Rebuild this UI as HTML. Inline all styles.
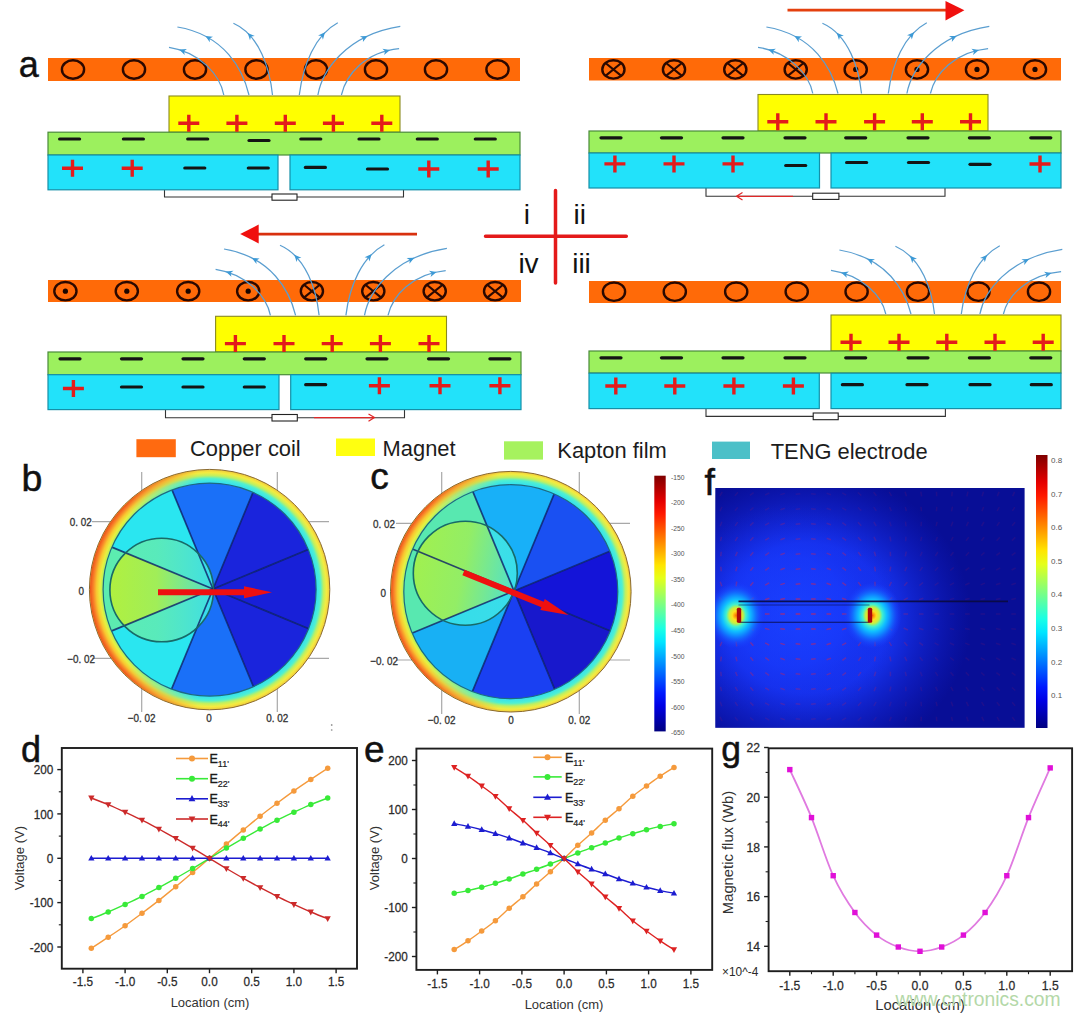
<!DOCTYPE html>
<html><head><meta charset="utf-8"><style>
html,body{margin:0;padding:0;background:#fff;}
body{width:1080px;height:1016px;overflow:hidden;font-family:"Liberation Sans",sans-serif;}
svg{display:block;}
</style></head><body>
<svg width="1080" height="1016" viewBox="0 0 1080 1016">
<rect width="1080" height="1016" fill="#fff"/>
<rect x="48" y="58" width="472" height="23" fill="#ff6a08"/>
<ellipse cx="73.0" cy="69.5" rx="11.1" ry="9.2" fill="none" stroke="#2a0800" stroke-width="2.4"/>
<ellipse cx="134.0" cy="69.5" rx="11.1" ry="9.2" fill="none" stroke="#2a0800" stroke-width="2.4"/>
<ellipse cx="195.0" cy="69.5" rx="11.1" ry="9.2" fill="none" stroke="#2a0800" stroke-width="2.4"/>
<ellipse cx="256.5" cy="69.5" rx="11.1" ry="9.2" fill="none" stroke="#2a0800" stroke-width="2.4"/>
<ellipse cx="316.0" cy="69.5" rx="11.1" ry="9.2" fill="none" stroke="#2a0800" stroke-width="2.4"/>
<ellipse cx="376.0" cy="69.5" rx="11.1" ry="9.2" fill="none" stroke="#2a0800" stroke-width="2.4"/>
<ellipse cx="436.0" cy="69.5" rx="11.1" ry="9.2" fill="none" stroke="#2a0800" stroke-width="2.4"/>
<ellipse cx="497.5" cy="69.5" rx="11.1" ry="9.2" fill="none" stroke="#2a0800" stroke-width="2.4"/>
<path d="M164.5,189.8V197H403.5V189.8" fill="none" stroke="#333" stroke-width="1.1"/>
<rect x="272" y="194" width="25" height="6.199999999999989" fill="#fff" stroke="#222" stroke-width="1.1"/>
<rect x="169" y="96" width="231" height="36.19999999999999" fill="#ffff00" stroke="#8a8a20" stroke-width="1.1"/>
<rect x="48" y="132.2" width="472" height="22.80000000000001" fill="#9cf05e" stroke="#4a8a3a" stroke-width="1.2"/>
<rect x="48" y="155" width="230" height="34.80000000000001" fill="#22e2fa" stroke="#1590a8" stroke-width="1.2"/>
<rect x="290" y="155" width="230" height="34.80000000000001" fill="#22e2fa" stroke="#1590a8" stroke-width="1.2"/>
<path d="M223.8,95.0C220.0,75.0 200.0,52.0 169.0,47.3" fill="none" stroke="#5a9ed0" stroke-width="1.25"/>
<path d="M179.3,49.5L186.9,48.9L184.0,51.2L184.7,54.9Z" fill="#3d9ad6"/>
<path d="M249.0,95.0C243.0,70.0 225.0,35.0 177.4,27.0" fill="none" stroke="#5a9ed0" stroke-width="1.25"/>
<path d="M205.4,36.0L213.0,36.8L209.7,38.6L209.8,42.3Z" fill="#3d9ad6"/>
<path d="M272.5,95.0C270.0,70.0 260.0,35.0 233.4,23.2" fill="none" stroke="#5a9ed0" stroke-width="1.25"/>
<path d="M247.7,32.9L254.8,36.0L251.0,36.6L250.0,40.2Z" fill="#3d9ad6"/>
<path d="M299.3,95.0C303.0,65.0 315.0,35.0 337.8,22.8" fill="none" stroke="#5a9ed0" stroke-width="1.25"/>
<path d="M325.0,32.3L322.9,39.7L321.8,36.1L318.0,35.5Z" fill="#3d9ad6"/>
<path d="M317.9,95.0C322.0,72.0 345.0,35.0 400.3,26.4" fill="none" stroke="#5a9ed0" stroke-width="1.25"/>
<path d="M367.6,36.0L362.9,42.0L363.2,38.3L359.9,36.3Z" fill="#3d9ad6"/>
<path d="M341.4,95.0C346.0,75.0 365.0,52.0 399.1,48.7" fill="none" stroke="#5a9ed0" stroke-width="1.25"/>
<path d="M390.0,50.0L384.1,54.9L385.1,51.3L382.4,48.8Z" fill="#3d9ad6"/>
<path d="M178.3,123.3H199.3M188.8,114.8V131.8" stroke="#e31b1b" stroke-width="3.4"/>
<path d="M226.4,123.3H247.4M236.9,114.8V131.8" stroke="#e31b1b" stroke-width="3.4"/>
<path d="M274.8,123.3H295.8M285.3,114.8V131.8" stroke="#e31b1b" stroke-width="3.4"/>
<path d="M322.9,123.3H343.9M333.4,114.8V131.8" stroke="#e31b1b" stroke-width="3.4"/>
<path d="M371.3,123.3H392.3M381.8,114.8V131.8" stroke="#e31b1b" stroke-width="3.4"/>
<path d="M59.6,139.0H79.6" stroke="#141414" stroke-width="3.2" stroke-linecap="round"/>
<path d="M123.4,139.0H143.4" stroke="#141414" stroke-width="3.2" stroke-linecap="round"/>
<path d="M187.7,139.0H207.7" stroke="#141414" stroke-width="3.2" stroke-linecap="round"/>
<path d="M249.0,140.5H269.0" stroke="#141414" stroke-width="3.2" stroke-linecap="round"/>
<path d="M300.8,139.0H320.8" stroke="#141414" stroke-width="3.2" stroke-linecap="round"/>
<path d="M359.0,139.0H379.0" stroke="#141414" stroke-width="3.2" stroke-linecap="round"/>
<path d="M417.3,139.0H437.3" stroke="#141414" stroke-width="3.2" stroke-linecap="round"/>
<path d="M475.3,139.0H495.3" stroke="#141414" stroke-width="3.2" stroke-linecap="round"/>
<path d="M62.0,168.3H83.0M72.5,159.8V176.8" stroke="#e31b1b" stroke-width="3.4"/>
<path d="M121.7,168.3H142.7M132.2,159.8V176.8" stroke="#e31b1b" stroke-width="3.4"/>
<path d="M184.8,168.0H204.8" stroke="#141414" stroke-width="3.2" stroke-linecap="round"/>
<path d="M248.3,168.0H268.3" stroke="#141414" stroke-width="3.2" stroke-linecap="round"/>
<path d="M305.4,167.4H325.4" stroke="#141414" stroke-width="3.2" stroke-linecap="round"/>
<path d="M367.5,169.0H387.5" stroke="#141414" stroke-width="3.2" stroke-linecap="round"/>
<path d="M418.3,169.0H439.3M428.8,160.5V177.5" stroke="#e31b1b" stroke-width="3.4"/>
<path d="M477.7,169.0H498.7M488.2,160.5V177.5" stroke="#e31b1b" stroke-width="3.4"/>
<rect x="589" y="58" width="472" height="22.5" fill="#ff6a08"/>
<ellipse cx="613.4" cy="69.4" rx="11.1" ry="9.2" fill="none" stroke="#2a0800" stroke-width="2.4"/>
<path d="M605.8,63.2L621.0,75.6M621.0,63.2L605.8,75.6" stroke="#2a0800" stroke-width="2.1"/>
<ellipse cx="674.0" cy="69.4" rx="11.1" ry="9.2" fill="none" stroke="#2a0800" stroke-width="2.4"/>
<path d="M666.4,63.2L681.6,75.6M681.6,63.2L666.4,75.6" stroke="#2a0800" stroke-width="2.1"/>
<ellipse cx="735.3" cy="69.4" rx="11.1" ry="9.2" fill="none" stroke="#2a0800" stroke-width="2.4"/>
<path d="M727.7,63.2L742.9,75.6M742.9,63.2L727.7,75.6" stroke="#2a0800" stroke-width="2.1"/>
<ellipse cx="795.7" cy="69.4" rx="11.1" ry="9.2" fill="none" stroke="#2a0800" stroke-width="2.4"/>
<path d="M788.1,63.2L803.3,75.6M803.3,63.2L788.1,75.6" stroke="#2a0800" stroke-width="2.1"/>
<ellipse cx="855.7" cy="69.4" rx="11.1" ry="9.2" fill="none" stroke="#2a0800" stroke-width="2.4"/>
<circle cx="855.7" cy="69.4" r="2.6" fill="#1a0500"/>
<ellipse cx="917.0" cy="69.4" rx="11.1" ry="9.2" fill="none" stroke="#2a0800" stroke-width="2.4"/>
<circle cx="917.0" cy="69.4" r="2.6" fill="#1a0500"/>
<ellipse cx="977.0" cy="69.4" rx="11.1" ry="9.2" fill="none" stroke="#2a0800" stroke-width="2.4"/>
<circle cx="977.0" cy="69.4" r="2.6" fill="#1a0500"/>
<ellipse cx="1035.0" cy="69.4" rx="11.1" ry="9.2" fill="none" stroke="#2a0800" stroke-width="2.4"/>
<circle cx="1035.0" cy="69.4" r="2.6" fill="#1a0500"/>
<path d="M706,188V196.3H945V188" fill="none" stroke="#333" stroke-width="1.1"/>
<rect x="812.7" y="193.2" width="26.199999999999932" height="6.200000000000017" fill="#fff" stroke="#222" stroke-width="1.1"/>
<rect x="758" y="94.5" width="230" height="36.5" fill="#ffff00" stroke="#8a8a20" stroke-width="1.1"/>
<rect x="589" y="131" width="472" height="22" fill="#9cf05e" stroke="#4a8a3a" stroke-width="1.2"/>
<rect x="589" y="153" width="230.5" height="35" fill="#22e2fa" stroke="#1590a8" stroke-width="1.2"/>
<rect x="831" y="153" width="230" height="35" fill="#22e2fa" stroke="#1590a8" stroke-width="1.2"/>
<path d="M812.8,93.5C809.0,74.1 789.0,52.0 758.0,47.3" fill="none" stroke="#5a9ed0" stroke-width="1.25"/>
<path d="M768.2,49.5L775.9,48.8L773.0,51.1L773.8,54.8Z" fill="#3d9ad6"/>
<path d="M838.0,93.5C832.0,69.1 814.0,35.0 766.4,27.0" fill="none" stroke="#5a9ed0" stroke-width="1.25"/>
<path d="M794.4,35.9L802.0,36.6L798.7,38.4L798.8,42.2Z" fill="#3d9ad6"/>
<path d="M861.5,93.5C859.0,69.1 849.0,35.0 822.4,23.2" fill="none" stroke="#5a9ed0" stroke-width="1.25"/>
<path d="M836.7,32.8L843.8,35.8L840.0,36.5L839.0,40.1Z" fill="#3d9ad6"/>
<path d="M888.3,93.5C892.0,64.1 904.0,35.0 926.8,22.8" fill="none" stroke="#5a9ed0" stroke-width="1.25"/>
<path d="M914.1,32.2L911.8,39.5L910.8,35.9L907.0,35.3Z" fill="#3d9ad6"/>
<path d="M906.9,93.5C911.0,71.1 934.0,35.0 989.3,26.4" fill="none" stroke="#5a9ed0" stroke-width="1.25"/>
<path d="M956.6,35.9L951.8,41.9L952.2,38.1L949.0,36.1Z" fill="#3d9ad6"/>
<path d="M930.4,93.5C935.0,74.1 954.0,52.0 988.1,48.7" fill="none" stroke="#5a9ed0" stroke-width="1.25"/>
<path d="M979.0,50.0L973.0,54.9L974.1,51.3L971.4,48.7Z" fill="#3d9ad6"/>
<path d="M767.3,121.8H788.3M777.8,113.3V130.3" stroke="#e31b1b" stroke-width="3.4"/>
<path d="M815.5,121.8H836.5M826.0,113.3V130.3" stroke="#e31b1b" stroke-width="3.4"/>
<path d="M864.1,121.8H885.1M874.6,113.3V130.3" stroke="#e31b1b" stroke-width="3.4"/>
<path d="M911.8,121.8H932.8M922.3,113.3V130.3" stroke="#e31b1b" stroke-width="3.4"/>
<path d="M960.0,121.8H981.0M970.5,113.3V130.3" stroke="#e31b1b" stroke-width="3.4"/>
<path d="M601.0,137.8H621.0" stroke="#141414" stroke-width="3.2" stroke-linecap="round"/>
<path d="M661.5,137.8H681.5" stroke="#141414" stroke-width="3.2" stroke-linecap="round"/>
<path d="M723.0,137.8H743.0" stroke="#141414" stroke-width="3.2" stroke-linecap="round"/>
<path d="M785.0,137.8H805.0" stroke="#141414" stroke-width="3.2" stroke-linecap="round"/>
<path d="M845.7,137.8H865.7" stroke="#141414" stroke-width="3.2" stroke-linecap="round"/>
<path d="M908.0,137.8H928.0" stroke="#141414" stroke-width="3.2" stroke-linecap="round"/>
<path d="M969.4,137.8H989.4" stroke="#141414" stroke-width="3.2" stroke-linecap="round"/>
<path d="M1030.8,137.8H1050.8" stroke="#141414" stroke-width="3.2" stroke-linecap="round"/>
<path d="M604.4,163.9H625.4M614.9,155.4V172.4" stroke="#e31b1b" stroke-width="3.4"/>
<path d="M663.5,163.9H684.5M674.0,155.4V172.4" stroke="#e31b1b" stroke-width="3.4"/>
<path d="M722.5,163.9H743.5M733.0,155.4V172.4" stroke="#e31b1b" stroke-width="3.4"/>
<path d="M785.7,165.5H805.7" stroke="#141414" stroke-width="3.2" stroke-linecap="round"/>
<path d="M846.6,162.5H866.6" stroke="#141414" stroke-width="3.2" stroke-linecap="round"/>
<path d="M908.5,162.5H928.5" stroke="#141414" stroke-width="3.2" stroke-linecap="round"/>
<path d="M970.0,164.3H990.0" stroke="#141414" stroke-width="3.2" stroke-linecap="round"/>
<path d="M1029.5,164.0H1050.5M1040.0,155.5V172.5" stroke="#e31b1b" stroke-width="3.4"/>
<rect x="48" y="280" width="473" height="22" fill="#ff6a08"/>
<ellipse cx="65.4" cy="291.2" rx="11.1" ry="9.2" fill="none" stroke="#2a0800" stroke-width="2.4"/>
<circle cx="65.4" cy="291.2" r="2.6" fill="#1a0500"/>
<ellipse cx="126.8" cy="291.2" rx="11.1" ry="9.2" fill="none" stroke="#2a0800" stroke-width="2.4"/>
<circle cx="126.8" cy="291.2" r="2.6" fill="#1a0500"/>
<ellipse cx="188.2" cy="291.2" rx="11.1" ry="9.2" fill="none" stroke="#2a0800" stroke-width="2.4"/>
<circle cx="188.2" cy="291.2" r="2.6" fill="#1a0500"/>
<ellipse cx="248.2" cy="291.2" rx="11.1" ry="9.2" fill="none" stroke="#2a0800" stroke-width="2.4"/>
<circle cx="248.2" cy="291.2" r="2.6" fill="#1a0500"/>
<ellipse cx="311.9" cy="291.2" rx="11.1" ry="9.2" fill="none" stroke="#2a0800" stroke-width="2.4"/>
<path d="M304.3,285.0L319.5,297.4M319.5,285.0L304.3,297.4" stroke="#2a0800" stroke-width="2.1"/>
<ellipse cx="373.3" cy="291.2" rx="11.1" ry="9.2" fill="none" stroke="#2a0800" stroke-width="2.4"/>
<path d="M365.7,285.0L380.9,297.4M380.9,285.0L365.7,297.4" stroke="#2a0800" stroke-width="2.1"/>
<ellipse cx="434.7" cy="291.2" rx="11.1" ry="9.2" fill="none" stroke="#2a0800" stroke-width="2.4"/>
<path d="M427.1,285.0L442.3,297.4M442.3,285.0L427.1,297.4" stroke="#2a0800" stroke-width="2.1"/>
<ellipse cx="495.1" cy="291.2" rx="11.1" ry="9.2" fill="none" stroke="#2a0800" stroke-width="2.4"/>
<path d="M487.5,285.0L502.7,297.4M502.7,285.0L487.5,297.4" stroke="#2a0800" stroke-width="2.1"/>
<path d="M165.5,409.6V417.8H404.5V409.6" fill="none" stroke="#333" stroke-width="1.1"/>
<rect x="272" y="414.5" width="25.30000000000001" height="6.5" fill="#fff" stroke="#222" stroke-width="1.1"/>
<rect x="215.6" y="316.3" width="230.9" height="35.69999999999999" fill="#ffff00" stroke="#8a8a20" stroke-width="1.1"/>
<rect x="48" y="352" width="473" height="22.69999999999999" fill="#9cf05e" stroke="#4a8a3a" stroke-width="1.2"/>
<rect x="48" y="374.7" width="231" height="34.900000000000034" fill="#22e2fa" stroke="#1590a8" stroke-width="1.2"/>
<rect x="290.7" y="374.7" width="230.3" height="34.900000000000034" fill="#22e2fa" stroke="#1590a8" stroke-width="1.2"/>
<path d="M270.4,315.3C266.6,296.0 246.6,274.0 215.6,269.3" fill="none" stroke="#5a9ed0" stroke-width="1.25"/>
<path d="M225.8,271.5L233.5,270.8L230.6,273.1L231.4,276.8Z" fill="#3d9ad6"/>
<path d="M295.6,315.3C289.6,291.0 271.6,257.0 224.0,249.0" fill="none" stroke="#5a9ed0" stroke-width="1.25"/>
<path d="M252.0,257.9L259.6,258.6L256.3,260.4L256.5,264.1Z" fill="#3d9ad6"/>
<path d="M319.1,315.3C316.6,291.0 306.6,257.0 280.0,245.2" fill="none" stroke="#5a9ed0" stroke-width="1.25"/>
<path d="M294.3,254.7L301.4,257.8L297.6,258.5L296.6,262.1Z" fill="#3d9ad6"/>
<path d="M345.9,315.3C349.6,286.0 361.6,257.0 384.4,244.8" fill="none" stroke="#5a9ed0" stroke-width="1.25"/>
<path d="M371.7,254.1L369.4,261.5L368.4,257.9L364.6,257.3Z" fill="#3d9ad6"/>
<path d="M364.5,315.3C368.6,293.0 391.6,257.0 446.9,248.4" fill="none" stroke="#5a9ed0" stroke-width="1.25"/>
<path d="M414.3,257.8L409.4,263.8L409.8,260.1L406.6,258.1Z" fill="#3d9ad6"/>
<path d="M388.0,315.3C392.6,296.0 411.6,274.0 445.7,270.7" fill="none" stroke="#5a9ed0" stroke-width="1.25"/>
<path d="M436.6,272.0L430.6,276.9L431.7,273.3L429.0,270.7Z" fill="#3d9ad6"/>
<path d="M224.9,343.6H245.9M235.4,335.1V352.1" stroke="#e31b1b" stroke-width="3.4"/>
<path d="M273.5,343.6H294.5M284.0,335.1V352.1" stroke="#e31b1b" stroke-width="3.4"/>
<path d="M321.7,343.6H342.7M332.2,335.1V352.1" stroke="#e31b1b" stroke-width="3.4"/>
<path d="M369.9,343.6H390.9M380.4,335.1V352.1" stroke="#e31b1b" stroke-width="3.4"/>
<path d="M418.5,343.6H439.5M429.0,335.1V352.1" stroke="#e31b1b" stroke-width="3.4"/>
<path d="M60.0,358.8H80.0" stroke="#141414" stroke-width="3.2" stroke-linecap="round"/>
<path d="M121.5,358.8H141.5" stroke="#141414" stroke-width="3.2" stroke-linecap="round"/>
<path d="M183.0,358.8H203.0" stroke="#141414" stroke-width="3.2" stroke-linecap="round"/>
<path d="M244.3,358.8H264.3" stroke="#141414" stroke-width="3.2" stroke-linecap="round"/>
<path d="M305.7,358.8H325.7" stroke="#141414" stroke-width="3.2" stroke-linecap="round"/>
<path d="M367.0,358.8H387.0" stroke="#141414" stroke-width="3.2" stroke-linecap="round"/>
<path d="M428.5,358.8H448.5" stroke="#141414" stroke-width="3.2" stroke-linecap="round"/>
<path d="M489.9,358.8H509.9" stroke="#141414" stroke-width="3.2" stroke-linecap="round"/>
<path d="M62.9,388.5H83.9M73.4,380.0V397.0" stroke="#e31b1b" stroke-width="3.4"/>
<path d="M121.5,387.0H141.5" stroke="#141414" stroke-width="3.2" stroke-linecap="round"/>
<path d="M183.0,387.0H203.0" stroke="#141414" stroke-width="3.2" stroke-linecap="round"/>
<path d="M244.3,387.0H264.3" stroke="#141414" stroke-width="3.2" stroke-linecap="round"/>
<path d="M305.7,384.7H325.7" stroke="#141414" stroke-width="3.2" stroke-linecap="round"/>
<path d="M368.9,385.7H389.9M379.4,377.2V394.2" stroke="#e31b1b" stroke-width="3.4"/>
<path d="M429.5,385.7H450.5M440.0,377.2V394.2" stroke="#e31b1b" stroke-width="3.4"/>
<path d="M489.4,385.7H510.4M499.9,377.2V394.2" stroke="#e31b1b" stroke-width="3.4"/>
<rect x="589" y="281" width="472" height="22" fill="#ff6a08"/>
<ellipse cx="614.0" cy="291.7" rx="11.1" ry="9.2" fill="none" stroke="#2a0800" stroke-width="2.4"/>
<ellipse cx="674.8" cy="291.7" rx="11.1" ry="9.2" fill="none" stroke="#2a0800" stroke-width="2.4"/>
<ellipse cx="736.2" cy="291.7" rx="11.1" ry="9.2" fill="none" stroke="#2a0800" stroke-width="2.4"/>
<ellipse cx="796.7" cy="291.7" rx="11.1" ry="9.2" fill="none" stroke="#2a0800" stroke-width="2.4"/>
<ellipse cx="856.6" cy="291.7" rx="11.1" ry="9.2" fill="none" stroke="#2a0800" stroke-width="2.4"/>
<ellipse cx="918.0" cy="291.7" rx="11.1" ry="9.2" fill="none" stroke="#2a0800" stroke-width="2.4"/>
<ellipse cx="978.5" cy="291.7" rx="11.1" ry="9.2" fill="none" stroke="#2a0800" stroke-width="2.4"/>
<ellipse cx="1039.0" cy="291.7" rx="11.1" ry="9.2" fill="none" stroke="#2a0800" stroke-width="2.4"/>
<path d="M706,408.6V416.4H945.4V408.6" fill="none" stroke="#333" stroke-width="1.1"/>
<rect x="813.2" y="413" width="25.0" height="6.699999999999989" fill="#fff" stroke="#222" stroke-width="1.1"/>
<rect x="831" y="315" width="230" height="36" fill="#ffff00" stroke="#8a8a20" stroke-width="1.1"/>
<rect x="589" y="351" width="472" height="22" fill="#9cf05e" stroke="#4a8a3a" stroke-width="1.2"/>
<rect x="589" y="373.2" width="230.29999999999995" height="35.400000000000034" fill="#22e2fa" stroke="#1590a8" stroke-width="1.2"/>
<rect x="831" y="373.2" width="230" height="35.400000000000034" fill="#22e2fa" stroke="#1590a8" stroke-width="1.2"/>
<path d="M885.8,314.0C882.0,295.6 862.0,275.0 831.0,270.3" fill="none" stroke="#5a9ed0" stroke-width="1.25"/>
<path d="M841.2,272.4L848.9,271.6L846.0,274.0L846.8,277.7Z" fill="#3d9ad6"/>
<path d="M911.0,314.0C905.0,290.6 887.0,258.0 839.4,250.0" fill="none" stroke="#5a9ed0" stroke-width="1.25"/>
<path d="M867.3,258.7L875.0,259.3L871.7,261.1L871.9,264.9Z" fill="#3d9ad6"/>
<path d="M934.5,314.0C932.0,290.6 922.0,258.0 895.4,246.2" fill="none" stroke="#5a9ed0" stroke-width="1.25"/>
<path d="M910.0,255.8L917.0,258.8L913.3,259.5L912.3,263.2Z" fill="#3d9ad6"/>
<path d="M961.3,314.0C965.0,285.6 977.0,258.0 999.8,245.8" fill="none" stroke="#5a9ed0" stroke-width="1.25"/>
<path d="M987.1,254.9L984.8,262.3L983.7,258.6L980.0,258.0Z" fill="#3d9ad6"/>
<path d="M979.9,314.0C984.0,292.6 1007.0,258.0 1062.3,249.4" fill="none" stroke="#5a9ed0" stroke-width="1.25"/>
<path d="M1029.1,258.9L1024.2,264.9L1024.6,261.1L1021.4,259.2Z" fill="#3d9ad6"/>
<path d="M1003.4,314.0C1008.0,295.6 1027.0,275.0 1061.1,271.7" fill="none" stroke="#5a9ed0" stroke-width="1.25"/>
<path d="M1051.5,273.0L1045.6,277.9L1046.7,274.3L1044.0,271.7Z" fill="#3d9ad6"/>
<path d="M840.5,342.2H861.5M851.0,333.7V350.7" stroke="#e31b1b" stroke-width="3.4"/>
<path d="M888.5,342.2H909.5M899.0,333.7V350.7" stroke="#e31b1b" stroke-width="3.4"/>
<path d="M936.3,342.2H957.3M946.8,333.7V350.7" stroke="#e31b1b" stroke-width="3.4"/>
<path d="M984.5,342.2H1005.5M995.0,333.7V350.7" stroke="#e31b1b" stroke-width="3.4"/>
<path d="M1032.7,342.2H1053.7M1043.2,333.7V350.7" stroke="#e31b1b" stroke-width="3.4"/>
<path d="M601.0,357.8H621.0" stroke="#141414" stroke-width="3.2" stroke-linecap="round"/>
<path d="M661.5,357.8H681.5" stroke="#141414" stroke-width="3.2" stroke-linecap="round"/>
<path d="M723.0,357.8H743.0" stroke="#141414" stroke-width="3.2" stroke-linecap="round"/>
<path d="M785.0,357.8H805.0" stroke="#141414" stroke-width="3.2" stroke-linecap="round"/>
<path d="M845.7,357.8H865.7" stroke="#141414" stroke-width="3.2" stroke-linecap="round"/>
<path d="M908.0,357.8H928.0" stroke="#141414" stroke-width="3.2" stroke-linecap="round"/>
<path d="M969.4,357.8H989.4" stroke="#141414" stroke-width="3.2" stroke-linecap="round"/>
<path d="M1030.8,357.8H1050.8" stroke="#141414" stroke-width="3.2" stroke-linecap="round"/>
<path d="M605.3,386.0H626.3M615.8,377.5V394.5" stroke="#e31b1b" stroke-width="3.4"/>
<path d="M664.3,386.0H685.3M674.8,377.5V394.5" stroke="#e31b1b" stroke-width="3.4"/>
<path d="M723.4,386.0H744.4M733.9,377.5V394.5" stroke="#e31b1b" stroke-width="3.4"/>
<path d="M782.9,386.0H803.9M793.4,377.5V394.5" stroke="#e31b1b" stroke-width="3.4"/>
<path d="M842.4,384.7H862.4" stroke="#141414" stroke-width="3.2" stroke-linecap="round"/>
<path d="M907.0,384.7H927.0" stroke="#141414" stroke-width="3.2" stroke-linecap="round"/>
<path d="M970.0,384.7H990.0" stroke="#141414" stroke-width="3.2" stroke-linecap="round"/>
<path d="M1031.3,384.7H1051.3" stroke="#141414" stroke-width="3.2" stroke-linecap="round"/>
<path d="M787.5,10.1H948" stroke="#e4400e" stroke-width="2.8"/>
<path d="M945.5,1L964.4,10.3L945.5,20.4Z" fill="#f0100e"/>
<path d="M417,234.1H256" stroke="#d8300e" stroke-width="2.8"/>
<path d="M258.7,224.6L240.2,234.1L258.7,243.4Z" fill="#f0100e"/>
<path d="M793,196.3H737M742.5,192.6L736.5,196.3L742.5,200" fill="none" stroke="#e02828" stroke-width="1.2"/>
<path d="M314,417.6H374M368.5,413.9L374.5,417.6L368.5,421.3" fill="none" stroke="#e02828" stroke-width="1.2"/>
<path d="M555.5,190.5V283M485.5,236.2H626.3" stroke="#e41a1a" stroke-width="3.5" stroke-linecap="round"/>
<text font-family="Liberation Sans, sans-serif" font-size="28" fill="#111" text-anchor="middle"><tspan x="526.8" y="224">i</tspan><tspan x="579.8" y="224">ii</tspan><tspan x="528.5" y="273">iv</tspan><tspan x="581.5" y="273">iii</tspan></text>
<text font-family="Liberation Sans, sans-serif" font-size="36" fill="#111" stroke="#111" stroke-width="0.4" x="18.7" y="77.4">a</text>
<rect x="136.4" y="439.2" width="39.400000000000006" height="18.0" fill="#ff6a10"/>
<text font-family="Liberation Sans, sans-serif" font-size="21.9" fill="#1c1c1c" x="190" y="456.2">Copper coil</text>
<rect x="336" y="438.5" width="39" height="17.5" fill="#ffff10"/>
<text font-family="Liberation Sans, sans-serif" font-size="21.9" fill="#1c1c1c" x="382.6" y="455.9">Magnet</text>
<rect x="504" y="441.3" width="39" height="18.30000000000001" fill="#a6f25e"/>
<text font-family="Liberation Sans, sans-serif" font-size="21.9" fill="#1c1c1c" x="557.3" y="458.2">Kapton film</text>
<rect x="712" y="441.6" width="38" height="17.399999999999977" fill="#4cc0c8"/>
<text font-family="Liberation Sans, sans-serif" font-size="21.9" fill="#1c1c1c" x="770.7" y="458.9">TENG electrode</text>
<path d="M141.7,472V712" stroke="#a8a8a8" stroke-width="1.2"/>
<path d="M277.3,472V712" stroke="#a8a8a8" stroke-width="1.2"/>
<path d="M92,521.7H329" stroke="#a8a8a8" stroke-width="1.2"/>
<path d="M92,658.3H329" stroke="#a8a8a8" stroke-width="1.2"/>
<defs><radialGradient id="rgb" gradientUnits="userSpaceOnUse" cx="209.6" cy="589.6" r="120.2"><stop offset="0.886" stop-color="#30e0f4"/><stop offset="0.923" stop-color="#50f0d0"/><stop offset="0.948" stop-color="#c0f060"/><stop offset="0.973" stop-color="#f4ec40"/><stop offset="1" stop-color="#f0c83c"/></radialGradient><linearGradient id="mgb" gradientUnits="userSpaceOnUse" x1="109.89999999999999" y1="590" x2="213.5" y2="590"><stop offset="0" stop-color="#48e0e0" stop-opacity="0"/><stop offset="0.45" stop-color="#48e0e0" stop-opacity="0.15"/><stop offset="1" stop-color="#38dcec" stop-opacity="0.85"/></linearGradient><radialGradient id="rlb" gradientUnits="userSpaceOnUse" cx="209.6" cy="589.6" r="120.2"><stop offset="0.886" stop-color="#a8f060"/><stop offset="0.911" stop-color="#e8f040"/><stop offset="0.940" stop-color="#f8c830"/><stop offset="0.969" stop-color="#f88028"/><stop offset="1" stop-color="#e84818"/></radialGradient><linearGradient id="lmb" gradientUnits="userSpaceOnUse" x1="89.39999999999999" y1="0" x2="197.57999999999998" y2="0"><stop offset="0" stop-color="#fff"/><stop offset="0.35" stop-color="#fff"/><stop offset="1" stop-color="#000"/></linearGradient><mask id="mkb"><rect x="87.39999999999999" y="467.40000000000003" width="244.4" height="244.4" fill="url(#lmb)"/></mask><clipPath id="cpb"><circle cx="209.6" cy="589.6" r="106.5"/></clipPath><clipPath id="cmb"><circle cx="161.7" cy="590" r="51.8"/></clipPath></defs>
<circle cx="209.6" cy="589.6" r="120.2" fill="url(#rgb)" stroke="#8a6a30" stroke-width="1"/>
<circle cx="209.6" cy="589.6" r="119.7" fill="url(#rlb)" mask="url(#mkb)"/>
<g clip-path="url(#cpb)">
<path d="M213.0,589.0L397.8,512.5A200,200 0 0 1 397.8,665.5Z" fill="#1820d8"/>
<path d="M213.0,589.0L397.8,665.5A200,200 0 0 1 289.5,773.8Z" fill="#1a24dc"/>
<path d="M213.0,589.0L289.5,773.8A200,200 0 0 1 136.5,773.8Z" fill="#1a70f8"/>
<path d="M213.0,589.0L136.5,773.8A200,200 0 0 1 28.2,665.5Z" fill="#2ae6f0"/>
<path d="M213.0,589.0L28.2,665.5A200,200 0 0 1 28.2,512.5Z" fill="#5cecb0"/>
<path d="M213.0,589.0L28.2,512.5A200,200 0 0 1 136.5,404.2Z" fill="#2ae6f0"/>
<path d="M213.0,589.0L136.5,404.2A200,200 0 0 1 289.5,404.2Z" fill="#1a70f8"/>
<path d="M213.0,589.0L289.5,404.2A200,200 0 0 1 397.8,512.5Z" fill="#1a24dc"/>
<g clip-path="url(#cmb)">
<path d="M213.0,589.0L289.5,773.8A200,200 0 0 1 136.5,773.8Z" fill="#38d8f0"/>
<path d="M213.0,589.0L136.5,773.8A200,200 0 0 1 28.2,665.5Z" fill="#5cecb4"/>
<path d="M213.0,589.0L28.2,665.5A200,200 0 0 1 28.2,512.5Z" fill="#b0f040"/>
<path d="M213.0,589.0L28.2,512.5A200,200 0 0 1 136.5,404.2Z" fill="#5cecb4"/>
<path d="M213.0,589.0L136.5,404.2A200,200 0 0 1 289.5,404.2Z" fill="#38d8f0"/>
<circle cx="161.7" cy="590" r="51.8" fill="url(#mgb)"/>
</g>
<path d="M213,589L397.8,512.5" stroke="#0e1e66" stroke-width="1.7" opacity="0.8"/>
<path d="M213,589L397.8,665.5" stroke="#0e1e66" stroke-width="1.7" opacity="0.8"/>
<path d="M213,589L289.5,773.8" stroke="#0e1e66" stroke-width="1.7" opacity="0.8"/>
<path d="M213,589L136.5,773.8" stroke="#0e1e66" stroke-width="1.7" opacity="0.8"/>
<path d="M213,589L28.2,665.5" stroke="#0e1e66" stroke-width="1.7" opacity="0.8"/>
<path d="M213,589L28.2,512.5" stroke="#0e1e66" stroke-width="1.7" opacity="0.8"/>
<path d="M213,589L136.5,404.2" stroke="#0e1e66" stroke-width="1.7" opacity="0.8"/>
<path d="M213,589L289.5,404.2" stroke="#0e1e66" stroke-width="1.7" opacity="0.8"/>
</g>
<circle cx="209.6" cy="589.6" r="106.5" fill="none" stroke="#1e6a80" stroke-width="1.2"/>
<circle cx="161.7" cy="590" r="51.8" fill="none" stroke="#186a68" stroke-width="1.6"/>
<path d="M158.0,595.3L244.0,595.3L244.0,598.3L272.0,592.3L244.0,586.3L244.0,589.3L158.0,589.3Z" fill="#ee1010"/>
<text font-family="Liberation Sans, sans-serif" font-size="11" fill="#333" stroke="#333" stroke-width="0.3" transform="translate(91.7,526) scale(0.9,1)" text-anchor="end">0. 02</text>
<text font-family="Liberation Sans, sans-serif" font-size="11" fill="#333" stroke="#333" stroke-width="0.3" transform="translate(84,594.5) scale(0.9,1)" text-anchor="end">0</text>
<text font-family="Liberation Sans, sans-serif" font-size="11" fill="#333" stroke="#333" stroke-width="0.3" transform="translate(95,663) scale(0.9,1)" text-anchor="end">−0. 02</text>
<text font-family="Liberation Sans, sans-serif" font-size="11" fill="#333" stroke="#333" stroke-width="0.3" transform="translate(141.7,722) scale(0.9,1)" text-anchor="middle">−0. 02</text>
<text font-family="Liberation Sans, sans-serif" font-size="11" fill="#333" stroke="#333" stroke-width="0.3" transform="translate(209,722) scale(0.9,1)" text-anchor="middle">0</text>
<text font-family="Liberation Sans, sans-serif" font-size="11" fill="#333" stroke="#333" stroke-width="0.3" transform="translate(277.3,722) scale(0.9,1)" text-anchor="middle">0. 02</text>
<path d="M441.7,472V714" stroke="#a8a8a8" stroke-width="1.2"/>
<path d="M579.3,472V714" stroke="#a8a8a8" stroke-width="1.2"/>
<path d="M396,523.3H630" stroke="#a8a8a8" stroke-width="1.2"/>
<path d="M396,660H630" stroke="#a8a8a8" stroke-width="1.2"/>
<defs><radialGradient id="rgc" gradientUnits="userSpaceOnUse" cx="510.8" cy="591.7" r="120.3"><stop offset="0.889" stop-color="#30e0f4"/><stop offset="0.927" stop-color="#50f0d0"/><stop offset="0.952" stop-color="#c0f060"/><stop offset="0.977" stop-color="#f4ec40"/><stop offset="1" stop-color="#f0c83c"/></radialGradient><linearGradient id="mgc" gradientUnits="userSpaceOnUse" x1="413.3" y1="573.2" x2="517.3" y2="593.2"><stop offset="0" stop-color="#48e0e0" stop-opacity="0"/><stop offset="0.45" stop-color="#48e0e0" stop-opacity="0.15"/><stop offset="1" stop-color="#38dcec" stop-opacity="0.85"/></linearGradient><radialGradient id="rlc" gradientUnits="userSpaceOnUse" cx="510.8" cy="591.7" r="120.3"><stop offset="0.889" stop-color="#a8f060"/><stop offset="0.914" stop-color="#e8f040"/><stop offset="0.943" stop-color="#f8c830"/><stop offset="0.973" stop-color="#f88028"/><stop offset="1" stop-color="#e84818"/></radialGradient><linearGradient id="lmc" gradientUnits="userSpaceOnUse" x1="390.5" y1="0" x2="498.77" y2="0"><stop offset="0" stop-color="#fff"/><stop offset="0.35" stop-color="#fff"/><stop offset="1" stop-color="#000"/></linearGradient><mask id="mkc"><rect x="388.5" y="469.40000000000003" width="244.6" height="244.6" fill="url(#lmc)"/></mask><clipPath id="cpc"><circle cx="510.8" cy="591.7" r="107"/></clipPath><clipPath id="cmc"><circle cx="465.3" cy="573.2" r="52"/></clipPath></defs>
<circle cx="510.8" cy="591.7" r="120.3" fill="url(#rgc)" stroke="#8a6a30" stroke-width="1"/>
<circle cx="510.8" cy="591.7" r="119.8" fill="url(#rlc)" mask="url(#mkc)"/>
<g clip-path="url(#cpc)">
<path d="M514.0,591.0L698.8,514.5A200,200 0 0 1 698.8,667.5Z" fill="#1414d8"/>
<path d="M514.0,591.0L698.8,667.5A200,200 0 0 1 590.5,775.8Z" fill="#1818cc"/>
<path d="M514.0,591.0L590.5,775.8A200,200 0 0 1 437.5,775.8Z" fill="#1a40f2"/>
<path d="M514.0,591.0L437.5,775.8A200,200 0 0 1 329.2,667.5Z" fill="#18b0f4"/>
<path d="M514.0,591.0L329.2,667.5A200,200 0 0 1 329.2,514.5Z" fill="#58e8b0"/>
<path d="M514.0,591.0L329.2,514.5A200,200 0 0 1 437.5,406.2Z" fill="#58e8b0"/>
<path d="M514.0,591.0L437.5,406.2A200,200 0 0 1 590.5,406.2Z" fill="#18b0f8"/>
<path d="M514.0,591.0L590.5,406.2A200,200 0 0 1 698.8,514.5Z" fill="#1a50f2"/>
<g clip-path="url(#cmc)">
<path d="M514.0,591.0L437.5,775.8A200,200 0 0 1 329.2,667.5Z" fill="#30dcec"/>
<path d="M514.0,591.0L329.2,667.5A200,200 0 0 1 329.2,514.5Z" fill="#a0f050"/>
<path d="M514.0,591.0L329.2,514.5A200,200 0 0 1 437.5,406.2Z" fill="#a0f050"/>
<path d="M514.0,591.0L437.5,406.2A200,200 0 0 1 590.5,406.2Z" fill="#38e0e8"/>
<circle cx="465.3" cy="573.2" r="52" fill="url(#mgc)"/>
</g>
<path d="M514,591L698.8,514.5" stroke="#0e1e66" stroke-width="1.7" opacity="0.8"/>
<path d="M514,591L698.8,667.5" stroke="#0e1e66" stroke-width="1.7" opacity="0.8"/>
<path d="M514,591L590.5,775.8" stroke="#0e1e66" stroke-width="1.7" opacity="0.8"/>
<path d="M514,591L437.5,775.8" stroke="#0e1e66" stroke-width="1.7" opacity="0.8"/>
<path d="M514,591L329.2,667.5" stroke="#0e1e66" stroke-width="1.7" opacity="0.8"/>
<path d="M514,591L329.2,514.5" stroke="#0e1e66" stroke-width="1.7" opacity="0.8"/>
<path d="M514,591L437.5,406.2" stroke="#0e1e66" stroke-width="1.7" opacity="0.8"/>
<path d="M514,591L590.5,406.2" stroke="#0e1e66" stroke-width="1.7" opacity="0.8"/>
</g>
<circle cx="510.8" cy="591.7" r="107" fill="none" stroke="#1e6a80" stroke-width="1.2"/>
<circle cx="465.3" cy="573.2" r="52" fill="none" stroke="#186a68" stroke-width="1.6"/>
<path d="M462.4,575.3L541.4,607.3L540.3,610.1L568.5,615.0L544.8,598.9L543.7,601.7L464.6,569.7Z" fill="#ee1010"/>
<text font-family="Liberation Sans, sans-serif" font-size="11" fill="#333" stroke="#333" stroke-width="0.3" transform="translate(395,527.5) scale(0.9,1)" text-anchor="end">0. 02</text>
<text font-family="Liberation Sans, sans-serif" font-size="11" fill="#333" stroke="#333" stroke-width="0.3" transform="translate(386,597) scale(0.9,1)" text-anchor="end">0</text>
<text font-family="Liberation Sans, sans-serif" font-size="11" fill="#333" stroke="#333" stroke-width="0.3" transform="translate(398,664.5) scale(0.9,1)" text-anchor="end">−0. 02</text>
<text font-family="Liberation Sans, sans-serif" font-size="11" fill="#333" stroke="#333" stroke-width="0.3" transform="translate(441.7,724) scale(0.9,1)" text-anchor="middle">−0. 02</text>
<text font-family="Liberation Sans, sans-serif" font-size="11" fill="#333" stroke="#333" stroke-width="0.3" transform="translate(511,724) scale(0.9,1)" text-anchor="middle">0</text>
<text font-family="Liberation Sans, sans-serif" font-size="11" fill="#333" stroke="#333" stroke-width="0.3" transform="translate(579.3,724) scale(0.9,1)" text-anchor="middle">0. 02</text>
<defs><clipPath id="cpf"><rect x="715.3" y="488" width="309.3" height="239.8"/></clipPath><radialGradient id="fglow" cx="0.5" cy="0.5" r="0.5"><stop offset="0" stop-color="#1a40ff" stop-opacity="1"/><stop offset="0.5" stop-color="#1838fa" stop-opacity="0.9"/><stop offset="0.8" stop-color="#1428e0" stop-opacity="0.4"/><stop offset="1" stop-color="#1020d0" stop-opacity="0"/></radialGradient><radialGradient id="fpole" cx="0.5" cy="0.5" r="0.5"><stop offset="0" stop-color="#ff7000"/><stop offset="0.13" stop-color="#ffe020"/><stop offset="0.24" stop-color="#c8f040"/><stop offset="0.34" stop-color="#40f0d0"/><stop offset="0.48" stop-color="#10c0ff"/><stop offset="0.64" stop-color="#1080ff"/><stop offset="0.84" stop-color="#1850ff" stop-opacity="0.5"/><stop offset="1" stop-color="#1840ff" stop-opacity="0"/></radialGradient></defs>
<rect x="715.3" y="488" width="309.29999999999995" height="239.79999999999995" fill="#080e96"/>
<g clip-path="url(#cpf)">
<ellipse cx="806" cy="618" rx="165" ry="150" fill="url(#fglow)"/>
<ellipse cx="790" cy="612" rx="110" ry="110" fill="url(#fglow)" opacity="0.6"/>
<path d="M719.8,496.0L722.2,492.0" stroke="#e8203c" stroke-width="1.5" opacity="0.10"/><path d="M734.9,495.7L737.9,492.3" stroke="#e8203c" stroke-width="1.5" opacity="0.10"/><path d="M750.0,495.4L753.6,492.6" stroke="#e8203c" stroke-width="1.5" opacity="0.10"/><path d="M765.1,495.0L769.3,493.0" stroke="#e8203c" stroke-width="1.5" opacity="0.10"/><path d="M780.4,494.6L784.8,493.4" stroke="#e8203c" stroke-width="1.5" opacity="0.10"/><path d="M795.7,494.2L800.3,493.8" stroke="#e8203c" stroke-width="1.5" opacity="0.10"/><path d="M811.1,493.7L815.7,494.3" stroke="#e8203c" stroke-width="1.5" opacity="0.10"/><path d="M826.6,493.3L831.0,494.7" stroke="#e8203c" stroke-width="1.5" opacity="0.10"/><path d="M842.2,492.9L846.2,495.1" stroke="#e8203c" stroke-width="1.5" opacity="0.10"/><path d="M857.9,492.5L861.3,495.5" stroke="#e8203c" stroke-width="1.5" opacity="0.10"/><path d="M873.6,492.2L876.4,495.8" stroke="#e8203c" stroke-width="1.5" opacity="0.10"/><path d="M889.3,492.0L891.5,496.0" stroke="#e8203c" stroke-width="1.5" opacity="0.10"/><path d="M905.1,491.8L906.5,496.2" stroke="#e8203c" stroke-width="1.5" opacity="0.10"/><path d="M920.8,491.7L921.6,496.3" stroke="#e8203c" stroke-width="1.5" opacity="0.10"/><path d="M936.5,491.7L936.7,496.3" stroke="#e8203c" stroke-width="1.5" opacity="0.10"/><path d="M952.2,491.7L951.8,496.3" stroke="#e8203c" stroke-width="1.5" opacity="0.10"/><path d="M967.9,491.7L966.9,496.3" stroke="#e8203c" stroke-width="1.5" opacity="0.10"/><path d="M983.5,491.8L982.1,496.2" stroke="#e8203c" stroke-width="1.5" opacity="0.10"/><path d="M999.1,491.9L997.3,496.1" stroke="#e8203c" stroke-width="1.5" opacity="0.10"/><path d="M1014.6,491.9L1012.6,496.1" stroke="#e8203c" stroke-width="1.5" opacity="0.10"/><path d="M720.0,511.1L722.0,506.9" stroke="#e8203c" stroke-width="1.5" opacity="0.10"/><path d="M735.0,510.8L737.8,507.2" stroke="#e8203c" stroke-width="1.5" opacity="0.10"/><path d="M750.1,510.5L753.5,507.5" stroke="#e8203c" stroke-width="1.5" opacity="0.11"/><path d="M765.2,510.1L769.2,507.9" stroke="#e8203c" stroke-width="1.5" opacity="0.13"/><path d="M780.4,509.7L784.8,508.3" stroke="#e8203c" stroke-width="1.5" opacity="0.14"/><path d="M795.7,509.2L800.3,508.8" stroke="#e8203c" stroke-width="1.5" opacity="0.14"/><path d="M811.1,508.7L815.7,509.3" stroke="#e8203c" stroke-width="1.5" opacity="0.14"/><path d="M826.6,508.2L831.0,509.8" stroke="#e8203c" stroke-width="1.5" opacity="0.13"/><path d="M842.2,507.8L846.2,510.2" stroke="#e8203c" stroke-width="1.5" opacity="0.12"/><path d="M857.9,507.4L861.3,510.6" stroke="#e8203c" stroke-width="1.5" opacity="0.10"/><path d="M873.7,507.1L876.3,510.9" stroke="#e8203c" stroke-width="1.5" opacity="0.10"/><path d="M889.5,506.9L891.3,511.1" stroke="#e8203c" stroke-width="1.5" opacity="0.10"/><path d="M905.3,506.8L906.3,511.2" stroke="#e8203c" stroke-width="1.5" opacity="0.10"/><path d="M921.0,506.7L921.4,511.3" stroke="#e8203c" stroke-width="1.5" opacity="0.10"/><path d="M936.8,506.7L936.4,511.3" stroke="#e8203c" stroke-width="1.5" opacity="0.10"/><path d="M952.5,506.7L951.5,511.3" stroke="#e8203c" stroke-width="1.5" opacity="0.10"/><path d="M968.1,506.8L966.7,511.2" stroke="#e8203c" stroke-width="1.5" opacity="0.10"/><path d="M983.7,506.9L981.9,511.1" stroke="#e8203c" stroke-width="1.5" opacity="0.10"/><path d="M999.3,507.0L997.1,511.0" stroke="#e8203c" stroke-width="1.5" opacity="0.10"/><path d="M1014.8,507.1L1012.4,510.9" stroke="#e8203c" stroke-width="1.5" opacity="0.10"/><path d="M720.2,526.2L721.8,521.8" stroke="#e8203c" stroke-width="1.5" opacity="0.12"/><path d="M735.2,525.9L737.6,522.1" stroke="#e8203c" stroke-width="1.5" opacity="0.15"/><path d="M750.1,525.6L753.5,522.4" stroke="#e8203c" stroke-width="1.5" opacity="0.17"/><path d="M765.2,525.2L769.2,522.8" stroke="#e8203c" stroke-width="1.5" opacity="0.19"/><path d="M780.4,524.7L784.8,523.3" stroke="#e8203c" stroke-width="1.5" opacity="0.21"/><path d="M795.7,524.2L800.3,523.8" stroke="#e8203c" stroke-width="1.5" opacity="0.21"/><path d="M811.1,523.7L815.7,524.3" stroke="#e8203c" stroke-width="1.5" opacity="0.21"/><path d="M826.6,523.2L831.0,524.8" stroke="#e8203c" stroke-width="1.5" opacity="0.20"/><path d="M842.3,522.7L846.1,525.3" stroke="#e8203c" stroke-width="1.5" opacity="0.18"/><path d="M858.0,522.3L861.2,525.7" stroke="#e8203c" stroke-width="1.5" opacity="0.16"/><path d="M873.8,522.0L876.2,526.0" stroke="#e8203c" stroke-width="1.5" opacity="0.13"/><path d="M889.7,521.8L891.1,526.2" stroke="#e8203c" stroke-width="1.5" opacity="0.10"/><path d="M905.5,521.7L906.1,526.3" stroke="#e8203c" stroke-width="1.5" opacity="0.10"/><path d="M921.3,521.7L921.1,526.3" stroke="#e8203c" stroke-width="1.5" opacity="0.10"/><path d="M937.1,521.8L936.1,526.2" stroke="#e8203c" stroke-width="1.5" opacity="0.10"/><path d="M952.8,521.8L951.2,526.2" stroke="#e8203c" stroke-width="1.5" opacity="0.10"/><path d="M968.4,521.9L966.4,526.1" stroke="#e8203c" stroke-width="1.5" opacity="0.10"/><path d="M984.0,522.0L981.6,526.0" stroke="#e8203c" stroke-width="1.5" opacity="0.10"/><path d="M999.5,522.1L996.9,525.9" stroke="#e8203c" stroke-width="1.5" opacity="0.10"/><path d="M1015.1,522.2L1012.1,525.8" stroke="#e8203c" stroke-width="1.5" opacity="0.10"/><path d="M720.5,541.2L721.5,536.8" stroke="#e8203c" stroke-width="1.5" opacity="0.17"/><path d="M735.3,541.0L737.5,537.0" stroke="#e8203c" stroke-width="1.5" opacity="0.21"/><path d="M750.2,540.7L753.4,537.3" stroke="#e8203c" stroke-width="1.5" opacity="0.24"/><path d="M765.3,540.2L769.1,537.8" stroke="#e8203c" stroke-width="1.5" opacity="0.26"/><path d="M780.4,539.7L784.8,538.3" stroke="#e8203c" stroke-width="1.5" opacity="0.27"/><path d="M795.7,539.2L800.3,538.8" stroke="#e8203c" stroke-width="1.5" opacity="0.28"/><path d="M811.1,538.7L815.7,539.3" stroke="#e8203c" stroke-width="1.5" opacity="0.28"/><path d="M826.7,538.2L830.9,539.8" stroke="#e8203c" stroke-width="1.5" opacity="0.26"/><path d="M842.3,537.7L846.1,540.3" stroke="#e8203c" stroke-width="1.5" opacity="0.24"/><path d="M858.1,537.2L861.1,540.8" stroke="#e8203c" stroke-width="1.5" opacity="0.22"/><path d="M874.0,536.9L876.0,541.1" stroke="#e8203c" stroke-width="1.5" opacity="0.18"/><path d="M890.0,536.7L890.8,541.3" stroke="#e8203c" stroke-width="1.5" opacity="0.15"/><path d="M905.9,536.7L905.7,541.3" stroke="#e8203c" stroke-width="1.5" opacity="0.11"/><path d="M921.7,536.8L920.7,541.2" stroke="#e8203c" stroke-width="1.5" opacity="0.10"/><path d="M937.4,536.9L935.8,541.1" stroke="#e8203c" stroke-width="1.5" opacity="0.10"/><path d="M953.1,537.0L950.9,541.0" stroke="#e8203c" stroke-width="1.5" opacity="0.10"/><path d="M968.7,537.1L966.1,540.9" stroke="#e8203c" stroke-width="1.5" opacity="0.10"/><path d="M984.2,537.2L981.4,540.8" stroke="#e8203c" stroke-width="1.5" opacity="0.10"/><path d="M999.8,537.3L996.6,540.7" stroke="#e8203c" stroke-width="1.5" opacity="0.10"/><path d="M1015.3,537.4L1011.9,540.6" stroke="#e8203c" stroke-width="1.5" opacity="0.10"/><path d="M720.8,556.3L721.2,551.7" stroke="#e8203c" stroke-width="1.5" opacity="0.22"/><path d="M735.5,556.1L737.3,551.9" stroke="#e8203c" stroke-width="1.5" opacity="0.26"/><path d="M750.3,555.8L753.3,552.2" stroke="#e8203c" stroke-width="1.5" opacity="0.30"/><path d="M765.3,555.3L769.1,552.7" stroke="#e8203c" stroke-width="1.5" opacity="0.32"/><path d="M780.4,554.7L784.8,553.3" stroke="#e8203c" stroke-width="1.5" opacity="0.34"/><path d="M795.7,554.2L800.3,553.8" stroke="#e8203c" stroke-width="1.5" opacity="0.35"/><path d="M811.1,553.7L815.7,554.3" stroke="#e8203c" stroke-width="1.5" opacity="0.34"/><path d="M826.7,553.1L830.9,554.9" stroke="#e8203c" stroke-width="1.5" opacity="0.33"/><path d="M842.4,552.6L846.0,555.4" stroke="#e8203c" stroke-width="1.5" opacity="0.30"/><path d="M858.3,552.1L860.9,555.9" stroke="#e8203c" stroke-width="1.5" opacity="0.27"/><path d="M874.3,551.8L875.7,556.2" stroke="#e8203c" stroke-width="1.5" opacity="0.23"/><path d="M890.3,551.7L890.5,556.3" stroke="#e8203c" stroke-width="1.5" opacity="0.19"/><path d="M906.3,551.7L905.3,556.3" stroke="#e8203c" stroke-width="1.5" opacity="0.15"/><path d="M922.1,551.9L920.3,556.1" stroke="#e8203c" stroke-width="1.5" opacity="0.10"/><path d="M937.8,552.0L935.4,556.0" stroke="#e8203c" stroke-width="1.5" opacity="0.10"/><path d="M953.4,552.2L950.6,555.8" stroke="#e8203c" stroke-width="1.5" opacity="0.10"/><path d="M969.0,552.3L965.8,555.7" stroke="#e8203c" stroke-width="1.5" opacity="0.10"/><path d="M984.5,552.5L981.1,555.5" stroke="#e8203c" stroke-width="1.5" opacity="0.10"/><path d="M1000.0,552.6L996.4,555.4" stroke="#e8203c" stroke-width="1.5" opacity="0.10"/><path d="M1015.5,552.7L1011.7,555.3" stroke="#e8203c" stroke-width="1.5" opacity="0.10"/><path d="M721.2,571.3L720.8,566.7" stroke="#e8203c" stroke-width="1.5" opacity="0.27"/><path d="M735.8,571.2L737.0,566.8" stroke="#e8203c" stroke-width="1.5" opacity="0.31"/><path d="M750.4,570.8L753.2,567.2" stroke="#e8203c" stroke-width="1.5" opacity="0.35"/><path d="M765.3,570.3L769.1,567.7" stroke="#e8203c" stroke-width="1.5" opacity="0.38"/><path d="M780.4,569.7L784.8,568.3" stroke="#e8203c" stroke-width="1.5" opacity="0.41"/><path d="M795.7,569.2L800.3,568.8" stroke="#e8203c" stroke-width="1.5" opacity="0.42"/><path d="M811.1,568.7L815.7,569.3" stroke="#e8203c" stroke-width="1.5" opacity="0.41"/><path d="M826.7,568.2L830.9,569.8" stroke="#e8203c" stroke-width="1.5" opacity="0.39"/><path d="M842.4,567.6L846.0,570.4" stroke="#e8203c" stroke-width="1.5" opacity="0.36"/><path d="M858.3,567.1L860.9,570.9" stroke="#e8203c" stroke-width="1.5" opacity="0.32"/><path d="M874.6,566.7L875.4,571.3" stroke="#e8203c" stroke-width="1.5" opacity="0.28"/><path d="M890.7,566.7L890.1,571.3" stroke="#e8203c" stroke-width="1.5" opacity="0.23"/><path d="M906.7,566.9L904.9,571.1" stroke="#e8203c" stroke-width="1.5" opacity="0.18"/><path d="M922.5,567.1L919.9,570.9" stroke="#e8203c" stroke-width="1.5" opacity="0.13"/><path d="M938.2,567.3L935.0,570.7" stroke="#e8203c" stroke-width="1.5" opacity="0.10"/><path d="M953.7,567.5L950.3,570.5" stroke="#e8203c" stroke-width="1.5" opacity="0.10"/><path d="M969.3,567.6L965.5,570.4" stroke="#e8203c" stroke-width="1.5" opacity="0.10"/><path d="M984.7,567.8L980.9,570.2" stroke="#e8203c" stroke-width="1.5" opacity="0.10"/><path d="M1000.2,567.9L996.2,570.1" stroke="#e8203c" stroke-width="1.5" opacity="0.10"/><path d="M1015.6,568.0L1011.6,570.0" stroke="#e8203c" stroke-width="1.5" opacity="0.10"/><path d="M721.8,586.2L720.2,581.8" stroke="#e8203c" stroke-width="1.5" opacity="0.30"/><path d="M736.1,586.3L736.7,581.7" stroke="#e8203c" stroke-width="1.5" opacity="0.35"/><path d="M750.3,585.8L753.3,582.2" stroke="#e8203c" stroke-width="1.5" opacity="0.40"/><path d="M765.2,585.1L769.2,582.9" stroke="#e8203c" stroke-width="1.5" opacity="0.44"/><path d="M780.4,584.6L784.8,583.4" stroke="#e8203c" stroke-width="1.5" opacity="0.47"/><path d="M795.7,584.2L800.3,583.8" stroke="#e8203c" stroke-width="1.5" opacity="0.48"/><path d="M811.1,583.8L815.7,584.2" stroke="#e8203c" stroke-width="1.5" opacity="0.48"/><path d="M826.6,583.3L831.0,584.7" stroke="#e8203c" stroke-width="1.5" opacity="0.45"/><path d="M842.3,582.7L846.1,585.3" stroke="#e8203c" stroke-width="1.5" opacity="0.41"/><path d="M858.3,582.1L860.9,585.9" stroke="#e8203c" stroke-width="1.5" opacity="0.36"/><path d="M874.9,581.7L875.1,586.3" stroke="#e8203c" stroke-width="1.5" opacity="0.32"/><path d="M891.4,581.9L889.4,586.1" stroke="#e8203c" stroke-width="1.5" opacity="0.26"/><path d="M907.3,582.2L904.3,585.8" stroke="#e8203c" stroke-width="1.5" opacity="0.21"/><path d="M923.0,582.5L919.4,585.5" stroke="#e8203c" stroke-width="1.5" opacity="0.16"/><path d="M938.5,582.7L934.7,585.3" stroke="#e8203c" stroke-width="1.5" opacity="0.10"/><path d="M954.0,582.9L950.0,585.1" stroke="#e8203c" stroke-width="1.5" opacity="0.10"/><path d="M969.5,583.0L965.3,585.0" stroke="#e8203c" stroke-width="1.5" opacity="0.10"/><path d="M984.9,583.1L980.7,584.9" stroke="#e8203c" stroke-width="1.5" opacity="0.10"/><path d="M1000.4,583.2L996.0,584.8" stroke="#e8203c" stroke-width="1.5" opacity="0.10"/><path d="M1015.8,583.3L1011.4,584.7" stroke="#e8203c" stroke-width="1.5" opacity="0.10"/><path d="M722.7,600.6L719.3,597.4" stroke="#e8203c" stroke-width="1.5" opacity="0.32"/><path d="M736.6,601.3L736.2,596.7" stroke="#e8203c" stroke-width="1.5" opacity="0.38"/><path d="M750.0,600.4L753.6,597.6" stroke="#e8203c" stroke-width="1.5" opacity="0.43"/><path d="M765.0,599.7L769.4,598.3" stroke="#e8203c" stroke-width="1.5" opacity="0.48"/><path d="M780.3,599.4L784.9,598.6" stroke="#e8203c" stroke-width="1.5" opacity="0.53"/><path d="M795.7,599.1L800.3,598.9" stroke="#e8203c" stroke-width="1.5" opacity="0.55"/><path d="M811.1,598.9L815.7,599.1" stroke="#e8203c" stroke-width="1.5" opacity="0.54"/><path d="M826.5,598.6L831.1,599.4" stroke="#e8203c" stroke-width="1.5" opacity="0.50"/><path d="M842.1,598.2L846.3,599.8" stroke="#e8203c" stroke-width="1.5" opacity="0.45"/><path d="M857.9,597.4L861.3,600.6" stroke="#e8203c" stroke-width="1.5" opacity="0.39"/><path d="M875.8,596.8L874.2,601.2" stroke="#e8203c" stroke-width="1.5" opacity="0.34"/><path d="M892.2,597.5L888.6,600.5" stroke="#e8203c" stroke-width="1.5" opacity="0.28"/><path d="M907.8,597.9L903.8,600.1" stroke="#e8203c" stroke-width="1.5" opacity="0.23"/><path d="M923.3,598.2L919.1,599.8" stroke="#e8203c" stroke-width="1.5" opacity="0.17"/><path d="M938.8,598.3L934.4,599.7" stroke="#e8203c" stroke-width="1.5" opacity="0.12"/><path d="M954.2,598.4L949.8,599.6" stroke="#e8203c" stroke-width="1.5" opacity="0.10"/><path d="M969.6,598.5L965.2,599.5" stroke="#e8203c" stroke-width="1.5" opacity="0.10"/><path d="M985.1,598.5L980.5,599.5" stroke="#e8203c" stroke-width="1.5" opacity="0.10"/><path d="M1000.5,598.6L995.9,599.4" stroke="#e8203c" stroke-width="1.5" opacity="0.10"/><path d="M1015.9,598.6L1011.3,599.4" stroke="#e8203c" stroke-width="1.5" opacity="0.10"/><path d="M723.3,614.1L718.7,613.9" stroke="#e8203c" stroke-width="1.5" opacity="0.33"/><path d="M738.7,613.5L734.1,614.5" stroke="#e8203c" stroke-width="1.5" opacity="0.39"/><path d="M749.5,614.1L754.1,613.9" stroke="#e8203c" stroke-width="1.5" opacity="0.44"/><path d="M764.9,614.0L769.5,614.0" stroke="#e8203c" stroke-width="1.5" opacity="0.50"/><path d="M780.3,614.0L784.9,614.0" stroke="#e8203c" stroke-width="1.5" opacity="0.56"/><path d="M795.7,614.0L800.3,614.0" stroke="#e8203c" stroke-width="1.5" opacity="0.61"/><path d="M811.1,614.0L815.7,614.0" stroke="#e8203c" stroke-width="1.5" opacity="0.57"/><path d="M826.5,614.0L831.1,614.0" stroke="#e8203c" stroke-width="1.5" opacity="0.52"/><path d="M841.9,613.9L846.5,614.1" stroke="#e8203c" stroke-width="1.5" opacity="0.46"/><path d="M857.3,613.9L861.9,614.1" stroke="#e8203c" stroke-width="1.5" opacity="0.40"/><path d="M877.3,614.0L872.7,614.0" stroke="#e8203c" stroke-width="1.5" opacity="0.35"/><path d="M892.7,613.9L888.1,614.1" stroke="#e8203c" stroke-width="1.5" opacity="0.29"/><path d="M908.1,613.9L903.5,614.1" stroke="#e8203c" stroke-width="1.5" opacity="0.24"/><path d="M923.5,613.9L918.9,614.1" stroke="#e8203c" stroke-width="1.5" opacity="0.18"/><path d="M938.9,614.0L934.3,614.0" stroke="#e8203c" stroke-width="1.5" opacity="0.12"/><path d="M954.3,614.0L949.7,614.0" stroke="#e8203c" stroke-width="1.5" opacity="0.10"/><path d="M969.7,614.0L965.1,614.0" stroke="#e8203c" stroke-width="1.5" opacity="0.10"/><path d="M985.1,614.0L980.5,614.0" stroke="#e8203c" stroke-width="1.5" opacity="0.10"/><path d="M1000.5,614.0L995.9,614.0" stroke="#e8203c" stroke-width="1.5" opacity="0.10"/><path d="M1015.9,614.0L1011.3,614.0" stroke="#e8203c" stroke-width="1.5" opacity="0.10"/><path d="M722.8,627.6L719.2,630.4" stroke="#e8203c" stroke-width="1.5" opacity="0.32"/><path d="M736.7,626.7L736.1,631.3" stroke="#e8203c" stroke-width="1.5" opacity="0.38"/><path d="M749.9,627.7L753.7,630.3" stroke="#e8203c" stroke-width="1.5" opacity="0.43"/><path d="M765.0,628.4L769.4,629.6" stroke="#e8203c" stroke-width="1.5" opacity="0.48"/><path d="M780.3,628.7L784.9,629.3" stroke="#e8203c" stroke-width="1.5" opacity="0.53"/><path d="M795.7,628.9L800.3,629.1" stroke="#e8203c" stroke-width="1.5" opacity="0.55"/><path d="M811.1,629.1L815.7,628.9" stroke="#e8203c" stroke-width="1.5" opacity="0.54"/><path d="M826.5,629.4L831.1,628.6" stroke="#e8203c" stroke-width="1.5" opacity="0.50"/><path d="M842.0,629.7L846.4,628.3" stroke="#e8203c" stroke-width="1.5" opacity="0.45"/><path d="M857.8,630.5L861.4,627.5" stroke="#e8203c" stroke-width="1.5" opacity="0.39"/><path d="M876.0,631.1L874.0,626.9" stroke="#e8203c" stroke-width="1.5" opacity="0.34"/><path d="M892.3,630.3L888.5,627.7" stroke="#e8203c" stroke-width="1.5" opacity="0.28"/><path d="M907.9,630.0L903.7,628.0" stroke="#e8203c" stroke-width="1.5" opacity="0.23"/><path d="M923.4,629.7L919.0,628.3" stroke="#e8203c" stroke-width="1.5" opacity="0.17"/><path d="M938.8,629.6L934.4,628.4" stroke="#e8203c" stroke-width="1.5" opacity="0.12"/><path d="M954.2,629.5L949.8,628.5" stroke="#e8203c" stroke-width="1.5" opacity="0.10"/><path d="M969.7,629.5L965.1,628.5" stroke="#e8203c" stroke-width="1.5" opacity="0.10"/><path d="M985.1,629.4L980.5,628.6" stroke="#e8203c" stroke-width="1.5" opacity="0.10"/><path d="M1000.5,629.4L995.9,628.6" stroke="#e8203c" stroke-width="1.5" opacity="0.10"/><path d="M1015.9,629.3L1011.3,628.7" stroke="#e8203c" stroke-width="1.5" opacity="0.10"/><path d="M721.9,641.9L720.1,646.1" stroke="#e8203c" stroke-width="1.5" opacity="0.30"/><path d="M736.1,641.7L736.7,646.3" stroke="#e8203c" stroke-width="1.5" opacity="0.35"/><path d="M750.3,642.2L753.3,645.8" stroke="#e8203c" stroke-width="1.5" opacity="0.40"/><path d="M765.2,642.9L769.2,645.1" stroke="#e8203c" stroke-width="1.5" opacity="0.44"/><path d="M780.4,643.4L784.8,644.6" stroke="#e8203c" stroke-width="1.5" opacity="0.47"/><path d="M795.7,643.8L800.3,644.2" stroke="#e8203c" stroke-width="1.5" opacity="0.48"/><path d="M811.1,644.2L815.7,643.8" stroke="#e8203c" stroke-width="1.5" opacity="0.48"/><path d="M826.6,644.7L831.0,643.3" stroke="#e8203c" stroke-width="1.5" opacity="0.45"/><path d="M842.2,645.2L846.2,642.8" stroke="#e8203c" stroke-width="1.5" opacity="0.41"/><path d="M858.3,645.9L860.9,642.1" stroke="#e8203c" stroke-width="1.5" opacity="0.36"/><path d="M875.0,646.3L875.0,641.7" stroke="#e8203c" stroke-width="1.5" opacity="0.32"/><path d="M891.5,646.0L889.3,642.0" stroke="#e8203c" stroke-width="1.5" opacity="0.26"/><path d="M907.4,645.7L904.2,642.3" stroke="#e8203c" stroke-width="1.5" opacity="0.21"/><path d="M923.0,645.4L919.4,642.6" stroke="#e8203c" stroke-width="1.5" opacity="0.16"/><path d="M938.6,645.2L934.6,642.8" stroke="#e8203c" stroke-width="1.5" opacity="0.10"/><path d="M954.1,645.0L949.9,643.0" stroke="#e8203c" stroke-width="1.5" opacity="0.10"/><path d="M969.5,644.9L965.3,643.1" stroke="#e8203c" stroke-width="1.5" opacity="0.10"/><path d="M984.9,644.8L980.7,643.2" stroke="#e8203c" stroke-width="1.5" opacity="0.10"/><path d="M1000.4,644.7L996.0,643.3" stroke="#e8203c" stroke-width="1.5" opacity="0.10"/><path d="M1015.8,644.7L1011.4,643.3" stroke="#e8203c" stroke-width="1.5" opacity="0.10"/><path d="M721.3,656.7L720.7,661.3" stroke="#e8203c" stroke-width="1.5" opacity="0.27"/><path d="M735.8,656.8L737.0,661.2" stroke="#e8203c" stroke-width="1.5" opacity="0.31"/><path d="M750.4,657.2L753.2,660.8" stroke="#e8203c" stroke-width="1.5" opacity="0.35"/><path d="M765.3,657.7L769.1,660.3" stroke="#e8203c" stroke-width="1.5" opacity="0.38"/><path d="M780.4,658.3L784.8,659.7" stroke="#e8203c" stroke-width="1.5" opacity="0.41"/><path d="M795.7,658.8L800.3,659.2" stroke="#e8203c" stroke-width="1.5" opacity="0.42"/><path d="M811.1,659.3L815.7,658.7" stroke="#e8203c" stroke-width="1.5" opacity="0.41"/><path d="M826.6,659.8L831.0,658.2" stroke="#e8203c" stroke-width="1.5" opacity="0.39"/><path d="M842.4,660.4L846.0,657.6" stroke="#e8203c" stroke-width="1.5" opacity="0.36"/><path d="M858.4,660.9L860.8,657.1" stroke="#e8203c" stroke-width="1.5" opacity="0.32"/><path d="M874.6,661.3L875.4,656.7" stroke="#e8203c" stroke-width="1.5" opacity="0.28"/><path d="M890.8,661.3L890.0,656.7" stroke="#e8203c" stroke-width="1.5" opacity="0.23"/><path d="M906.8,661.1L904.8,656.9" stroke="#e8203c" stroke-width="1.5" opacity="0.18"/><path d="M922.6,660.8L919.8,657.2" stroke="#e8203c" stroke-width="1.5" opacity="0.13"/><path d="M938.2,660.6L935.0,657.4" stroke="#e8203c" stroke-width="1.5" opacity="0.10"/><path d="M953.8,660.5L950.2,657.5" stroke="#e8203c" stroke-width="1.5" opacity="0.10"/><path d="M969.3,660.3L965.5,657.7" stroke="#e8203c" stroke-width="1.5" opacity="0.10"/><path d="M984.8,660.2L980.8,657.8" stroke="#e8203c" stroke-width="1.5" opacity="0.10"/><path d="M1000.2,660.1L996.2,657.9" stroke="#e8203c" stroke-width="1.5" opacity="0.10"/><path d="M1015.7,660.0L1011.5,658.0" stroke="#e8203c" stroke-width="1.5" opacity="0.10"/><path d="M720.8,671.7L721.2,676.3" stroke="#e8203c" stroke-width="1.5" opacity="0.22"/><path d="M735.6,671.9L737.2,676.1" stroke="#e8203c" stroke-width="1.5" opacity="0.26"/><path d="M750.3,672.2L753.3,675.8" stroke="#e8203c" stroke-width="1.5" opacity="0.30"/><path d="M765.3,672.7L769.1,675.3" stroke="#e8203c" stroke-width="1.5" opacity="0.32"/><path d="M780.4,673.3L784.8,674.7" stroke="#e8203c" stroke-width="1.5" opacity="0.34"/><path d="M795.7,673.8L800.3,674.2" stroke="#e8203c" stroke-width="1.5" opacity="0.35"/><path d="M811.1,674.3L815.7,673.7" stroke="#e8203c" stroke-width="1.5" opacity="0.34"/><path d="M826.7,674.9L830.9,673.1" stroke="#e8203c" stroke-width="1.5" opacity="0.33"/><path d="M842.4,675.4L846.0,672.6" stroke="#e8203c" stroke-width="1.5" opacity="0.30"/><path d="M858.3,675.9L860.9,672.1" stroke="#e8203c" stroke-width="1.5" opacity="0.27"/><path d="M874.3,676.2L875.7,671.8" stroke="#e8203c" stroke-width="1.5" opacity="0.23"/><path d="M890.4,676.3L890.4,671.7" stroke="#e8203c" stroke-width="1.5" opacity="0.19"/><path d="M906.3,676.2L905.3,671.8" stroke="#e8203c" stroke-width="1.5" opacity="0.15"/><path d="M922.1,676.1L920.3,671.9" stroke="#e8203c" stroke-width="1.5" opacity="0.10"/><path d="M937.8,675.9L935.4,672.1" stroke="#e8203c" stroke-width="1.5" opacity="0.10"/><path d="M953.5,675.8L950.5,672.2" stroke="#e8203c" stroke-width="1.5" opacity="0.10"/><path d="M969.0,675.6L965.8,672.4" stroke="#e8203c" stroke-width="1.5" opacity="0.10"/><path d="M984.5,675.5L981.1,672.5" stroke="#e8203c" stroke-width="1.5" opacity="0.10"/><path d="M1000.0,675.4L996.4,672.6" stroke="#e8203c" stroke-width="1.5" opacity="0.10"/><path d="M1015.5,675.3L1011.7,672.7" stroke="#e8203c" stroke-width="1.5" opacity="0.10"/><path d="M720.5,686.8L721.5,691.2" stroke="#e8203c" stroke-width="1.5" opacity="0.17"/><path d="M735.3,687.0L737.5,691.0" stroke="#e8203c" stroke-width="1.5" opacity="0.21"/><path d="M750.3,687.3L753.3,690.7" stroke="#e8203c" stroke-width="1.5" opacity="0.24"/><path d="M765.3,687.8L769.1,690.2" stroke="#e8203c" stroke-width="1.5" opacity="0.26"/><path d="M780.4,688.3L784.8,689.7" stroke="#e8203c" stroke-width="1.5" opacity="0.27"/><path d="M795.7,688.8L800.3,689.2" stroke="#e8203c" stroke-width="1.5" opacity="0.28"/><path d="M811.1,689.3L815.7,688.7" stroke="#e8203c" stroke-width="1.5" opacity="0.28"/><path d="M826.7,689.9L830.9,688.1" stroke="#e8203c" stroke-width="1.5" opacity="0.26"/><path d="M842.3,690.4L846.1,687.6" stroke="#e8203c" stroke-width="1.5" opacity="0.24"/><path d="M858.2,690.8L861.0,687.2" stroke="#e8203c" stroke-width="1.5" opacity="0.22"/><path d="M874.1,691.1L875.9,686.9" stroke="#e8203c" stroke-width="1.5" opacity="0.18"/><path d="M890.0,691.3L890.8,686.7" stroke="#e8203c" stroke-width="1.5" opacity="0.15"/><path d="M905.9,691.3L905.7,686.7" stroke="#e8203c" stroke-width="1.5" opacity="0.11"/><path d="M921.7,691.2L920.7,686.8" stroke="#e8203c" stroke-width="1.5" opacity="0.10"/><path d="M937.5,691.1L935.7,686.9" stroke="#e8203c" stroke-width="1.5" opacity="0.10"/><path d="M953.1,691.0L950.9,687.0" stroke="#e8203c" stroke-width="1.5" opacity="0.10"/><path d="M968.7,690.9L966.1,687.1" stroke="#e8203c" stroke-width="1.5" opacity="0.10"/><path d="M984.3,690.8L981.3,687.2" stroke="#e8203c" stroke-width="1.5" opacity="0.10"/><path d="M999.8,690.6L996.6,687.4" stroke="#e8203c" stroke-width="1.5" opacity="0.10"/><path d="M1015.3,690.5L1011.9,687.5" stroke="#e8203c" stroke-width="1.5" opacity="0.10"/><path d="M720.2,701.8L721.8,706.2" stroke="#e8203c" stroke-width="1.5" opacity="0.12"/><path d="M735.2,702.1L737.6,705.9" stroke="#e8203c" stroke-width="1.5" opacity="0.15"/><path d="M750.2,702.4L753.4,705.6" stroke="#e8203c" stroke-width="1.5" opacity="0.17"/><path d="M765.2,702.8L769.2,705.2" stroke="#e8203c" stroke-width="1.5" opacity="0.19"/><path d="M780.4,703.3L784.8,704.7" stroke="#e8203c" stroke-width="1.5" opacity="0.21"/><path d="M795.7,703.8L800.3,704.2" stroke="#e8203c" stroke-width="1.5" opacity="0.21"/><path d="M811.1,704.3L815.7,703.7" stroke="#e8203c" stroke-width="1.5" opacity="0.21"/><path d="M826.7,704.8L830.9,703.2" stroke="#e8203c" stroke-width="1.5" opacity="0.20"/><path d="M842.3,705.3L846.1,702.7" stroke="#e8203c" stroke-width="1.5" opacity="0.18"/><path d="M858.0,705.7L861.2,702.3" stroke="#e8203c" stroke-width="1.5" opacity="0.16"/><path d="M873.9,706.0L876.1,702.0" stroke="#e8203c" stroke-width="1.5" opacity="0.13"/><path d="M889.7,706.2L891.1,701.8" stroke="#e8203c" stroke-width="1.5" opacity="0.10"/><path d="M905.6,706.3L906.0,701.7" stroke="#e8203c" stroke-width="1.5" opacity="0.10"/><path d="M921.4,706.3L921.0,701.7" stroke="#e8203c" stroke-width="1.5" opacity="0.10"/><path d="M937.1,706.2L936.1,701.8" stroke="#e8203c" stroke-width="1.5" opacity="0.10"/><path d="M952.8,706.2L951.2,701.8" stroke="#e8203c" stroke-width="1.5" opacity="0.10"/><path d="M968.4,706.1L966.4,701.9" stroke="#e8203c" stroke-width="1.5" opacity="0.10"/><path d="M984.0,705.9L981.6,702.1" stroke="#e8203c" stroke-width="1.5" opacity="0.10"/><path d="M999.6,705.8L996.8,702.2" stroke="#e8203c" stroke-width="1.5" opacity="0.10"/><path d="M1015.1,705.7L1012.1,702.3" stroke="#e8203c" stroke-width="1.5" opacity="0.10"/><path d="M720.0,716.9L722.0,721.1" stroke="#e8203c" stroke-width="1.5" opacity="0.10"/><path d="M735.0,717.2L737.8,720.8" stroke="#e8203c" stroke-width="1.5" opacity="0.10"/><path d="M750.1,717.5L753.5,720.5" stroke="#e8203c" stroke-width="1.5" opacity="0.11"/><path d="M765.2,717.9L769.2,720.1" stroke="#e8203c" stroke-width="1.5" opacity="0.13"/><path d="M780.4,718.3L784.8,719.7" stroke="#e8203c" stroke-width="1.5" opacity="0.14"/><path d="M795.7,718.8L800.3,719.2" stroke="#e8203c" stroke-width="1.5" opacity="0.14"/><path d="M811.1,719.3L815.7,718.7" stroke="#e8203c" stroke-width="1.5" opacity="0.14"/><path d="M826.6,719.8L831.0,718.2" stroke="#e8203c" stroke-width="1.5" opacity="0.13"/><path d="M842.2,720.2L846.2,717.8" stroke="#e8203c" stroke-width="1.5" opacity="0.12"/><path d="M857.9,720.6L861.3,717.4" stroke="#e8203c" stroke-width="1.5" opacity="0.10"/><path d="M873.7,720.9L876.3,717.1" stroke="#e8203c" stroke-width="1.5" opacity="0.10"/><path d="M889.5,721.1L891.3,716.9" stroke="#e8203c" stroke-width="1.5" opacity="0.10"/><path d="M905.3,721.2L906.3,716.8" stroke="#e8203c" stroke-width="1.5" opacity="0.10"/><path d="M921.1,721.3L921.3,716.7" stroke="#e8203c" stroke-width="1.5" opacity="0.10"/><path d="M936.8,721.3L936.4,716.7" stroke="#e8203c" stroke-width="1.5" opacity="0.10"/><path d="M952.5,721.2L951.5,716.8" stroke="#e8203c" stroke-width="1.5" opacity="0.10"/><path d="M968.2,721.2L966.6,716.8" stroke="#e8203c" stroke-width="1.5" opacity="0.10"/><path d="M983.8,721.1L981.8,716.9" stroke="#e8203c" stroke-width="1.5" opacity="0.10"/><path d="M999.3,721.0L997.1,717.0" stroke="#e8203c" stroke-width="1.5" opacity="0.10"/><path d="M1014.9,720.9L1012.3,717.1" stroke="#e8203c" stroke-width="1.5" opacity="0.10"/>
<ellipse cx="736" cy="615.5" rx="29" ry="33" fill="url(#fpole)"/>
<ellipse cx="872.5" cy="615.5" rx="29" ry="33" fill="url(#fpole)"/>
</g>
<path d="M738.5,601.3H1008" stroke="#0a0a40" stroke-width="1.8" opacity="0.9"/>
<path d="M738.5,605H869.5" stroke="#0a0a40" stroke-width="0.9" opacity="0.6"/>
<path d="M738.5,622.3H869.5" stroke="#0a0a40" stroke-width="1.1" opacity="0.85"/>
<rect x="736.8" y="607.8" width="4.4" height="15" rx="1.5" fill="#a80808"/>
<rect x="867.8" y="607.8" width="4.4" height="15" rx="1.5" fill="#a80808"/>
<defs><linearGradient id="cbf" x1="0" y1="0" x2="0" y2="1"><stop offset="0.00" stop-color="#7f0000"/><stop offset="0.05" stop-color="#b20000"/><stop offset="0.10" stop-color="#e50000"/><stop offset="0.15" stop-color="#ff1900"/><stop offset="0.20" stop-color="#ff4c00"/><stop offset="0.25" stop-color="#ff7f00"/><stop offset="0.30" stop-color="#ffb200"/><stop offset="0.35" stop-color="#ffe500"/><stop offset="0.40" stop-color="#e5ff19"/><stop offset="0.45" stop-color="#b2ff4c"/><stop offset="0.50" stop-color="#7fff7f"/><stop offset="0.55" stop-color="#4cffb2"/><stop offset="0.60" stop-color="#19ffe5"/><stop offset="0.65" stop-color="#00e5ff"/><stop offset="0.70" stop-color="#00b2ff"/><stop offset="0.75" stop-color="#007fff"/><stop offset="0.80" stop-color="#004cff"/><stop offset="0.85" stop-color="#0019ff"/><stop offset="0.90" stop-color="#0000e5"/><stop offset="0.95" stop-color="#0000b2"/><stop offset="1.00" stop-color="#00007f"/></linearGradient></defs>
<rect x="1036" y="455" width="11.5" height="273" fill="url(#cbf)"/>
<text font-family="Liberation Sans, sans-serif" font-size="8" fill="#555" x="1051" y="463.0">0.8</text>
<text font-family="Liberation Sans, sans-serif" font-size="8" fill="#555" x="1051" y="496.6">0.7</text>
<text font-family="Liberation Sans, sans-serif" font-size="8" fill="#555" x="1051" y="530.2">0.6</text>
<text font-family="Liberation Sans, sans-serif" font-size="8" fill="#555" x="1051" y="563.8">0.5</text>
<text font-family="Liberation Sans, sans-serif" font-size="8" fill="#555" x="1051" y="597.4">0.4</text>
<text font-family="Liberation Sans, sans-serif" font-size="8" fill="#555" x="1051" y="631.0">0.3</text>
<text font-family="Liberation Sans, sans-serif" font-size="8" fill="#555" x="1051" y="664.6">0.2</text>
<text font-family="Liberation Sans, sans-serif" font-size="8" fill="#555" x="1051" y="698.2">0.1</text>
<text font-family="Liberation Sans, sans-serif" font-size="37.4" fill="#111" stroke="#111" stroke-width="0.5" x="704.5" y="494.6">f</text>
<circle cx="331.7" cy="725" r="0.9" fill="#999"/><circle cx="331.7" cy="730" r="0.9" fill="#aaa"/>
<path d="M91.3,948.3C94.2,946.5 102.6,941.0 108.2,937.2C113.8,933.5 119.5,929.7 125.1,925.7C130.7,921.7 136.4,917.5 142.0,913.3C147.6,909.1 153.2,904.9 158.9,900.4C164.5,896.0 170.1,891.3 175.7,886.7C181.4,882.0 187.0,877.2 192.6,872.5C198.2,867.8 203.9,863.0 209.5,858.3C215.1,853.6 220.8,848.8 226.4,844.1C232.0,839.4 237.6,834.6 243.3,829.9C248.9,825.3 254.5,820.6 260.1,816.2C265.8,811.7 271.4,807.5 277.0,803.3C282.6,799.1 288.3,794.9 293.9,790.9C299.5,786.9 305.2,783.1 310.8,779.4C316.4,775.6 324.8,770.1 327.7,768.3" fill="none" stroke="#f59a3c" stroke-width="1.4"/>
<circle cx="91.3" cy="948.3" r="2.75" fill="#f59a3c"/>
<circle cx="108.2" cy="937.2" r="2.75" fill="#f59a3c"/>
<circle cx="125.1" cy="925.7" r="2.75" fill="#f59a3c"/>
<circle cx="142.0" cy="913.3" r="2.75" fill="#f59a3c"/>
<circle cx="158.9" cy="900.4" r="2.75" fill="#f59a3c"/>
<circle cx="175.7" cy="886.7" r="2.75" fill="#f59a3c"/>
<circle cx="192.6" cy="872.5" r="2.75" fill="#f59a3c"/>
<circle cx="209.5" cy="858.3" r="2.75" fill="#f59a3c"/>
<circle cx="226.4" cy="844.1" r="2.75" fill="#f59a3c"/>
<circle cx="243.3" cy="829.9" r="2.75" fill="#f59a3c"/>
<circle cx="260.1" cy="816.2" r="2.75" fill="#f59a3c"/>
<circle cx="277.0" cy="803.3" r="2.75" fill="#f59a3c"/>
<circle cx="293.9" cy="790.9" r="2.75" fill="#f59a3c"/>
<circle cx="310.8" cy="779.4" r="2.75" fill="#f59a3c"/>
<circle cx="327.7" cy="768.3" r="2.75" fill="#f59a3c"/>
<path d="M91.3,918.6C94.2,917.5 102.6,914.3 108.2,912.0C113.8,909.6 119.5,907.0 125.1,904.4C130.7,901.8 136.4,899.2 142.0,896.4C147.6,893.6 153.2,890.6 158.9,887.6C164.5,884.5 170.1,881.4 175.7,878.3C181.4,875.1 187.0,871.8 192.6,868.5C198.2,865.2 203.9,861.7 209.5,858.3C215.1,854.9 220.8,851.4 226.4,848.1C232.0,844.8 237.6,841.5 243.3,838.3C248.9,835.2 254.5,832.1 260.1,829.0C265.8,826.0 271.4,823.0 277.0,820.2C282.6,817.4 288.3,814.8 293.9,812.2C299.5,809.6 305.2,807.0 310.8,804.6C316.4,802.3 324.8,799.1 327.7,798.0" fill="none" stroke="#38ea38" stroke-width="1.4"/>
<circle cx="91.3" cy="918.6" r="2.75" fill="#38ea38"/>
<circle cx="108.2" cy="912.0" r="2.75" fill="#38ea38"/>
<circle cx="125.1" cy="904.4" r="2.75" fill="#38ea38"/>
<circle cx="142.0" cy="896.4" r="2.75" fill="#38ea38"/>
<circle cx="158.9" cy="887.6" r="2.75" fill="#38ea38"/>
<circle cx="175.7" cy="878.3" r="2.75" fill="#38ea38"/>
<circle cx="192.6" cy="868.5" r="2.75" fill="#38ea38"/>
<circle cx="209.5" cy="858.3" r="2.75" fill="#38ea38"/>
<circle cx="226.4" cy="848.1" r="2.75" fill="#38ea38"/>
<circle cx="243.3" cy="838.3" r="2.75" fill="#38ea38"/>
<circle cx="260.1" cy="829.0" r="2.75" fill="#38ea38"/>
<circle cx="277.0" cy="820.2" r="2.75" fill="#38ea38"/>
<circle cx="293.9" cy="812.2" r="2.75" fill="#38ea38"/>
<circle cx="310.8" cy="804.6" r="2.75" fill="#38ea38"/>
<circle cx="327.7" cy="798.0" r="2.75" fill="#38ea38"/>
<path d="M91.3,858.3C94.2,858.3 102.6,858.3 108.2,858.3C113.8,858.3 119.5,858.3 125.1,858.3C130.7,858.3 136.4,858.3 142.0,858.3C147.6,858.3 153.2,858.3 158.9,858.3C164.5,858.3 170.1,858.3 175.7,858.3C181.4,858.3 187.0,858.3 192.6,858.3C198.2,858.3 203.9,858.3 209.5,858.3C215.1,858.3 220.8,858.3 226.4,858.3C232.0,858.3 237.6,858.3 243.3,858.3C248.9,858.3 254.5,858.3 260.1,858.3C265.8,858.3 271.4,858.3 277.0,858.3C282.6,858.3 288.3,858.3 293.9,858.3C299.5,858.3 305.2,858.3 310.8,858.3C316.4,858.3 324.8,858.3 327.7,858.3" fill="none" stroke="#1c1cd0" stroke-width="1.4"/>
<path d="M91.3,854.9L94.5,860.6L88.2,860.6Z" fill="#1c1cd0"/>
<path d="M108.2,854.9L111.4,860.6L105.1,860.6Z" fill="#1c1cd0"/>
<path d="M125.1,854.9L128.3,860.6L121.9,860.6Z" fill="#1c1cd0"/>
<path d="M142.0,854.9L145.1,860.6L138.8,860.6Z" fill="#1c1cd0"/>
<path d="M158.9,854.9L162.0,860.6L155.7,860.6Z" fill="#1c1cd0"/>
<path d="M175.7,854.9L178.9,860.6L172.6,860.6Z" fill="#1c1cd0"/>
<path d="M192.6,854.9L195.8,860.6L189.5,860.6Z" fill="#1c1cd0"/>
<path d="M209.5,854.9L212.7,860.6L206.3,860.6Z" fill="#1c1cd0"/>
<path d="M226.4,854.9L229.5,860.6L223.2,860.6Z" fill="#1c1cd0"/>
<path d="M243.3,854.9L246.4,860.6L240.1,860.6Z" fill="#1c1cd0"/>
<path d="M260.1,854.9L263.3,860.6L257.0,860.6Z" fill="#1c1cd0"/>
<path d="M277.0,854.9L280.2,860.6L273.9,860.6Z" fill="#1c1cd0"/>
<path d="M293.9,854.9L297.1,860.6L290.7,860.6Z" fill="#1c1cd0"/>
<path d="M310.8,854.9L313.9,860.6L307.6,860.6Z" fill="#1c1cd0"/>
<path d="M327.7,854.9L330.8,860.6L324.5,860.6Z" fill="#1c1cd0"/>
<path d="M91.3,798.0C94.2,799.1 102.6,802.3 108.2,804.6C113.8,807.0 119.5,809.6 125.1,812.2C130.7,814.8 136.4,817.4 142.0,820.2C147.6,823.0 153.2,826.0 158.9,829.0C164.5,832.1 170.1,835.2 175.7,838.3C181.4,841.5 187.0,844.8 192.6,848.1C198.2,851.4 203.9,854.9 209.5,858.3C215.1,861.7 220.8,865.2 226.4,868.5C232.0,871.8 237.6,875.1 243.3,878.3C248.9,881.4 254.5,884.5 260.1,887.6C265.8,890.6 271.4,893.6 277.0,896.4C282.6,899.2 288.3,901.8 293.9,904.4C299.5,907.0 305.2,909.6 310.8,912.0C316.4,914.3 324.8,917.5 327.7,918.6" fill="none" stroke="#cc2a2a" stroke-width="1.4"/>
<path d="M91.3,801.4L94.5,795.6L88.2,795.6Z" fill="#cc2a2a"/>
<path d="M108.2,808.1L111.4,802.3L105.1,802.3Z" fill="#cc2a2a"/>
<path d="M125.1,815.6L128.3,809.8L121.9,809.8Z" fill="#cc2a2a"/>
<path d="M142.0,823.6L145.1,817.8L138.8,817.8Z" fill="#cc2a2a"/>
<path d="M158.9,832.5L162.0,826.7L155.7,826.7Z" fill="#cc2a2a"/>
<path d="M175.7,841.8L178.9,836.0L172.6,836.0Z" fill="#cc2a2a"/>
<path d="M192.6,851.5L195.8,845.8L189.5,845.8Z" fill="#cc2a2a"/>
<path d="M209.5,861.7L212.7,856.0L206.3,856.0Z" fill="#cc2a2a"/>
<path d="M226.4,871.9L229.5,866.2L223.2,866.2Z" fill="#cc2a2a"/>
<path d="M243.3,881.7L246.4,875.9L240.1,875.9Z" fill="#cc2a2a"/>
<path d="M260.1,891.0L263.3,885.2L257.0,885.2Z" fill="#cc2a2a"/>
<path d="M277.0,899.9L280.2,894.1L273.9,894.1Z" fill="#cc2a2a"/>
<path d="M293.9,907.9L297.1,902.1L290.7,902.1Z" fill="#cc2a2a"/>
<path d="M310.8,915.4L313.9,909.6L307.6,909.6Z" fill="#cc2a2a"/>
<path d="M327.7,922.1L330.8,916.3L324.5,916.3Z" fill="#cc2a2a"/>
<rect x="61.8" y="748" width="295.2" height="220.70000000000005" fill="none" stroke="#1e1e1e" stroke-width="1.9"/>
<path d="M82.9,968.7V973.2" stroke="#1e1e1e" stroke-width="1.4"/>
<text font-family="Liberation Sans, sans-serif" font-size="12.8" fill="#2a2a2a" transform="translate(82.9,986.3) scale(0.92,1)" text-anchor="middle" stroke="#2a2a2a" stroke-width="0.25">-1.5</text>
<path d="M125.1,968.7V973.2" stroke="#1e1e1e" stroke-width="1.4"/>
<text font-family="Liberation Sans, sans-serif" font-size="12.8" fill="#2a2a2a" transform="translate(125.1,986.3) scale(0.92,1)" text-anchor="middle" stroke="#2a2a2a" stroke-width="0.25">-1.0</text>
<path d="M167.3,968.7V973.2" stroke="#1e1e1e" stroke-width="1.4"/>
<text font-family="Liberation Sans, sans-serif" font-size="12.8" fill="#2a2a2a" transform="translate(167.3,986.3) scale(0.92,1)" text-anchor="middle" stroke="#2a2a2a" stroke-width="0.25">-0.5</text>
<path d="M209.5,968.7V973.2" stroke="#1e1e1e" stroke-width="1.4"/>
<text font-family="Liberation Sans, sans-serif" font-size="12.8" fill="#2a2a2a" transform="translate(209.5,986.3) scale(0.92,1)" text-anchor="middle" stroke="#2a2a2a" stroke-width="0.25">0.0</text>
<path d="M251.7,968.7V973.2" stroke="#1e1e1e" stroke-width="1.4"/>
<text font-family="Liberation Sans, sans-serif" font-size="12.8" fill="#2a2a2a" transform="translate(251.7,986.3) scale(0.92,1)" text-anchor="middle" stroke="#2a2a2a" stroke-width="0.25">0.5</text>
<path d="M293.9,968.7V973.2" stroke="#1e1e1e" stroke-width="1.4"/>
<text font-family="Liberation Sans, sans-serif" font-size="12.8" fill="#2a2a2a" transform="translate(293.9,986.3) scale(0.92,1)" text-anchor="middle" stroke="#2a2a2a" stroke-width="0.25">1.0</text>
<path d="M336.1,968.7V973.2" stroke="#1e1e1e" stroke-width="1.4"/>
<text font-family="Liberation Sans, sans-serif" font-size="12.8" fill="#2a2a2a" transform="translate(336.1,986.3) scale(0.92,1)" text-anchor="middle" stroke="#2a2a2a" stroke-width="0.25">1.5</text>
<path d="M61.8,769.6H57.3" stroke="#1e1e1e" stroke-width="1.4"/>
<text font-family="Liberation Sans, sans-serif" font-size="12.8" fill="#2a2a2a" transform="translate(53.3,774.2) scale(0.92,1)" text-anchor="end" stroke="#2a2a2a" stroke-width="0.25">200</text>
<path d="M61.8,813.9H57.3" stroke="#1e1e1e" stroke-width="1.4"/>
<text font-family="Liberation Sans, sans-serif" font-size="12.8" fill="#2a2a2a" transform="translate(53.3,818.6) scale(0.92,1)" text-anchor="end" stroke="#2a2a2a" stroke-width="0.25">100</text>
<path d="M61.8,858.3H57.3" stroke="#1e1e1e" stroke-width="1.4"/>
<text font-family="Liberation Sans, sans-serif" font-size="12.8" fill="#2a2a2a" transform="translate(53.3,862.9) scale(0.92,1)" text-anchor="end" stroke="#2a2a2a" stroke-width="0.25">0</text>
<path d="M61.8,902.6H57.3" stroke="#1e1e1e" stroke-width="1.4"/>
<text font-family="Liberation Sans, sans-serif" font-size="12.8" fill="#2a2a2a" transform="translate(53.3,907.3) scale(0.92,1)" text-anchor="end" stroke="#2a2a2a" stroke-width="0.25">-100</text>
<path d="M61.8,947.0H57.3" stroke="#1e1e1e" stroke-width="1.4"/>
<text font-family="Liberation Sans, sans-serif" font-size="12.8" fill="#2a2a2a" transform="translate(53.3,951.6) scale(0.92,1)" text-anchor="end" stroke="#2a2a2a" stroke-width="0.25">-200</text>
<path d="M61.8,791.8H58.8" stroke="#1e1e1e" stroke-width="1.1"/>
<path d="M61.8,836.1H58.8" stroke="#1e1e1e" stroke-width="1.1"/>
<path d="M61.8,880.5H58.8" stroke="#1e1e1e" stroke-width="1.1"/>
<path d="M61.8,924.8H58.8" stroke="#1e1e1e" stroke-width="1.1"/>
<text font-family="Liberation Sans, sans-serif" font-size="13" fill="#333" x="210.0" y="1007.2" text-anchor="middle" >Location (cm)</text>
<text font-family="Liberation Sans, sans-serif" font-size="13" fill="#333" transform="translate(24,858.2) rotate(-90) scale(1.0,1)" text-anchor="middle">Voltage (V)</text>
<path d="M176,758.5H208" stroke="#f59a3c" stroke-width="1.6"/>
<circle cx="192.0" cy="758.5" r="3.0" fill="#f59a3c"/>
<text font-family="Liberation Sans, sans-serif" font-size="12.5" fill="#1a1a1a" x="209.5" y="763.1" stroke="#1a1a1a" stroke-width="0.35">E<tspan font-size="9" dy="3.6" stroke-width="0.2">11'</tspan></text>
<path d="M176,778.7H208" stroke="#38ea38" stroke-width="1.6"/>
<circle cx="192.0" cy="778.7" r="3.0" fill="#38ea38"/>
<text font-family="Liberation Sans, sans-serif" font-size="12.5" fill="#1a1a1a" x="209.5" y="783.3" stroke="#1a1a1a" stroke-width="0.35">E<tspan font-size="9" dy="3.6" stroke-width="0.2">22'</tspan></text>
<path d="M176,798.8H208" stroke="#1c1cd0" stroke-width="1.6"/>
<path d="M192.0,795.0L195.4,801.3L188.6,801.3Z" fill="#1c1cd0"/>
<text font-family="Liberation Sans, sans-serif" font-size="12.5" fill="#1a1a1a" x="209.5" y="803.4" stroke="#1a1a1a" stroke-width="0.35">E<tspan font-size="9" dy="3.6" stroke-width="0.2">33'</tspan></text>
<path d="M176,819H208" stroke="#cc2a2a" stroke-width="1.6"/>
<path d="M192.0,822.8L195.4,816.5L188.6,816.5Z" fill="#cc2a2a"/>
<text font-family="Liberation Sans, sans-serif" font-size="12.5" fill="#1a1a1a" x="209.5" y="823.6" stroke="#1a1a1a" stroke-width="0.35">E<tspan font-size="9" dy="3.6" stroke-width="0.2">44'</tspan></text>
<path d="M454.2,949.6C456.5,948.2 463.4,943.9 468.0,940.8C472.6,937.7 477.1,934.4 481.7,931.0C486.3,927.7 490.9,924.5 495.4,920.7C500.0,916.9 504.6,912.3 509.2,908.3C513.8,904.3 518.3,900.8 522.9,896.7C527.5,892.7 532.1,888.1 536.6,884.0C541.2,879.8 545.8,876.0 550.4,871.7C554.9,867.5 559.5,862.9 564.1,858.5C568.7,854.1 573.3,849.5 577.8,845.3C582.4,841.0 587.0,837.2 591.6,833.0C596.1,828.9 600.7,824.3 605.3,820.3C609.9,816.2 614.4,812.7 619.0,808.7C623.6,804.7 628.2,800.1 632.8,796.3C637.3,792.5 641.9,789.3 646.5,786.0C651.1,782.6 655.6,779.3 660.2,776.2C664.8,773.1 671.7,768.8 674.0,767.4" fill="none" stroke="#f59a3c" stroke-width="1.4"/>
<circle cx="454.2" cy="949.6" r="2.75" fill="#f59a3c"/>
<circle cx="468.0" cy="940.8" r="2.75" fill="#f59a3c"/>
<circle cx="481.7" cy="931.0" r="2.75" fill="#f59a3c"/>
<circle cx="495.4" cy="920.7" r="2.75" fill="#f59a3c"/>
<circle cx="509.2" cy="908.3" r="2.75" fill="#f59a3c"/>
<circle cx="522.9" cy="896.7" r="2.75" fill="#f59a3c"/>
<circle cx="536.6" cy="884.0" r="2.75" fill="#f59a3c"/>
<circle cx="550.4" cy="871.7" r="2.75" fill="#f59a3c"/>
<circle cx="564.1" cy="858.5" r="2.75" fill="#f59a3c"/>
<circle cx="577.8" cy="845.3" r="2.75" fill="#f59a3c"/>
<circle cx="591.6" cy="833.0" r="2.75" fill="#f59a3c"/>
<circle cx="605.3" cy="820.3" r="2.75" fill="#f59a3c"/>
<circle cx="619.0" cy="808.7" r="2.75" fill="#f59a3c"/>
<circle cx="632.8" cy="796.3" r="2.75" fill="#f59a3c"/>
<circle cx="646.5" cy="786.0" r="2.75" fill="#f59a3c"/>
<circle cx="660.2" cy="776.2" r="2.75" fill="#f59a3c"/>
<circle cx="674.0" cy="767.4" r="2.75" fill="#f59a3c"/>
<path d="M454.2,893.3C456.5,892.8 463.4,891.6 468.0,890.6C472.6,889.6 477.1,888.5 481.7,887.3C486.3,886.1 490.9,884.7 495.4,883.3C500.0,881.9 504.6,880.5 509.2,879.0C513.8,877.4 518.3,875.6 522.9,874.0C527.5,872.4 532.1,870.9 536.6,869.3C541.2,867.6 545.8,865.8 550.4,864.0C554.9,862.2 559.5,860.3 564.1,858.5C568.7,856.7 573.3,854.8 577.8,853.0C582.4,851.2 587.0,849.4 591.6,847.7C596.1,846.1 600.7,844.6 605.3,843.0C609.9,841.4 614.4,839.6 619.0,838.0C623.6,836.5 628.2,835.1 632.8,833.7C637.3,832.3 641.9,830.9 646.5,829.7C651.1,828.5 655.6,827.4 660.2,826.4C664.8,825.4 671.7,824.2 674.0,823.7" fill="none" stroke="#38ea38" stroke-width="1.4"/>
<circle cx="454.2" cy="893.3" r="2.75" fill="#38ea38"/>
<circle cx="468.0" cy="890.6" r="2.75" fill="#38ea38"/>
<circle cx="481.7" cy="887.3" r="2.75" fill="#38ea38"/>
<circle cx="495.4" cy="883.3" r="2.75" fill="#38ea38"/>
<circle cx="509.2" cy="879.0" r="2.75" fill="#38ea38"/>
<circle cx="522.9" cy="874.0" r="2.75" fill="#38ea38"/>
<circle cx="536.6" cy="869.3" r="2.75" fill="#38ea38"/>
<circle cx="550.4" cy="864.0" r="2.75" fill="#38ea38"/>
<circle cx="564.1" cy="858.5" r="2.75" fill="#38ea38"/>
<circle cx="577.8" cy="853.0" r="2.75" fill="#38ea38"/>
<circle cx="591.6" cy="847.7" r="2.75" fill="#38ea38"/>
<circle cx="605.3" cy="843.0" r="2.75" fill="#38ea38"/>
<circle cx="619.0" cy="838.0" r="2.75" fill="#38ea38"/>
<circle cx="632.8" cy="833.7" r="2.75" fill="#38ea38"/>
<circle cx="646.5" cy="829.7" r="2.75" fill="#38ea38"/>
<circle cx="660.2" cy="826.4" r="2.75" fill="#38ea38"/>
<circle cx="674.0" cy="823.7" r="2.75" fill="#38ea38"/>
<path d="M454.2,823.7C456.5,824.2 463.4,825.4 468.0,826.4C472.6,827.4 477.1,828.5 481.7,829.7C486.3,830.9 490.9,832.3 495.4,833.7C500.0,835.1 504.6,836.5 509.2,838.0C513.8,839.6 518.3,841.4 522.9,843.0C527.5,844.6 532.1,846.1 536.6,847.7C541.2,849.4 545.8,851.2 550.4,853.0C554.9,854.8 559.5,856.7 564.1,858.5C568.7,860.3 573.3,862.2 577.8,864.0C582.4,865.8 587.0,867.6 591.6,869.3C596.1,870.9 600.7,872.4 605.3,874.0C609.9,875.6 614.4,877.4 619.0,879.0C623.6,880.5 628.2,881.9 632.8,883.3C637.3,884.7 641.9,886.1 646.5,887.3C651.1,888.5 655.6,889.6 660.2,890.6C664.8,891.6 671.7,892.8 674.0,893.3" fill="none" stroke="#1c1cd0" stroke-width="1.4"/>
<path d="M454.2,820.3L457.4,826.0L451.1,826.0Z" fill="#1c1cd0"/>
<path d="M468.0,822.9L471.1,828.7L464.8,828.7Z" fill="#1c1cd0"/>
<path d="M481.7,826.3L484.9,832.0L478.6,832.0Z" fill="#1c1cd0"/>
<path d="M495.4,830.3L498.6,836.0L492.3,836.0Z" fill="#1c1cd0"/>
<path d="M509.2,834.6L512.3,840.4L506.0,840.4Z" fill="#1c1cd0"/>
<path d="M522.9,839.6L526.1,845.4L519.7,845.4Z" fill="#1c1cd0"/>
<path d="M536.6,844.3L539.8,850.1L533.5,850.1Z" fill="#1c1cd0"/>
<path d="M550.4,849.6L553.5,855.3L547.2,855.3Z" fill="#1c1cd0"/>
<path d="M564.1,855.1L567.3,860.8L560.9,860.8Z" fill="#1c1cd0"/>
<path d="M577.8,860.6L581.0,866.3L574.7,866.3Z" fill="#1c1cd0"/>
<path d="M591.6,865.8L594.7,871.6L588.4,871.6Z" fill="#1c1cd0"/>
<path d="M605.3,870.5L608.5,876.3L602.1,876.3Z" fill="#1c1cd0"/>
<path d="M619.0,875.5L622.2,881.3L615.9,881.3Z" fill="#1c1cd0"/>
<path d="M632.8,879.9L635.9,885.6L629.6,885.6Z" fill="#1c1cd0"/>
<path d="M646.5,883.9L649.6,889.6L643.3,889.6Z" fill="#1c1cd0"/>
<path d="M660.2,887.2L663.4,893.0L657.1,893.0Z" fill="#1c1cd0"/>
<path d="M674.0,889.9L677.1,895.6L670.8,895.6Z" fill="#1c1cd0"/>
<path d="M454.2,767.4C456.5,768.8 463.4,773.1 468.0,776.2C472.6,779.3 477.1,782.6 481.7,786.0C486.3,789.3 490.9,792.5 495.4,796.3C500.0,800.1 504.6,804.7 509.2,808.7C513.8,812.7 518.3,816.2 522.9,820.3C527.5,824.3 532.1,828.9 536.6,833.0C541.2,837.2 545.8,841.0 550.4,845.3C554.9,849.5 559.5,854.1 564.1,858.5C568.7,862.9 573.3,867.5 577.8,871.7C582.4,876.0 587.0,879.8 591.6,884.0C596.1,888.1 600.7,892.7 605.3,896.7C609.9,900.8 614.4,904.3 619.0,908.3C623.6,912.3 628.2,916.9 632.8,920.7C637.3,924.5 641.9,927.7 646.5,931.0C651.1,934.4 655.6,937.7 660.2,940.8C664.8,943.9 671.7,948.2 674.0,949.6" fill="none" stroke="#dd2222" stroke-width="1.4"/>
<path d="M454.2,770.8L457.4,765.0L451.1,765.0Z" fill="#dd2222"/>
<path d="M468.0,779.6L471.1,773.8L464.8,773.8Z" fill="#dd2222"/>
<path d="M481.7,789.4L484.9,783.6L478.6,783.6Z" fill="#dd2222"/>
<path d="M495.4,799.7L498.6,793.9L492.3,793.9Z" fill="#dd2222"/>
<path d="M509.2,812.1L512.3,806.3L506.0,806.3Z" fill="#dd2222"/>
<path d="M522.9,823.7L526.1,817.9L519.7,817.9Z" fill="#dd2222"/>
<path d="M536.6,836.5L539.8,830.7L533.5,830.7Z" fill="#dd2222"/>
<path d="M550.4,848.7L553.5,842.9L547.2,842.9Z" fill="#dd2222"/>
<path d="M564.1,861.9L567.3,856.2L560.9,856.2Z" fill="#dd2222"/>
<path d="M577.8,875.2L581.0,869.4L574.7,869.4Z" fill="#dd2222"/>
<path d="M591.6,887.4L594.7,881.6L588.4,881.6Z" fill="#dd2222"/>
<path d="M605.3,900.2L608.5,894.4L602.1,894.4Z" fill="#dd2222"/>
<path d="M619.0,911.8L622.2,906.0L615.9,906.0Z" fill="#dd2222"/>
<path d="M632.8,924.2L635.9,918.4L629.6,918.4Z" fill="#dd2222"/>
<path d="M646.5,934.5L649.6,928.7L643.3,928.7Z" fill="#dd2222"/>
<path d="M660.2,944.3L663.4,938.5L657.1,938.5Z" fill="#dd2222"/>
<path d="M674.0,953.1L677.1,947.3L670.8,947.3Z" fill="#dd2222"/>
<rect x="416.4" y="748.6" width="295.80000000000007" height="221.29999999999995" fill="none" stroke="#1e1e1e" stroke-width="1.9"/>
<path d="M437.4,969.9V974.4" stroke="#1e1e1e" stroke-width="1.4"/>
<text font-family="Liberation Sans, sans-serif" font-size="12.8" fill="#2a2a2a" transform="translate(437.4,987.5) scale(0.92,1)" text-anchor="middle" stroke="#2a2a2a" stroke-width="0.25">-1.5</text>
<path d="M479.6,969.9V974.4" stroke="#1e1e1e" stroke-width="1.4"/>
<text font-family="Liberation Sans, sans-serif" font-size="12.8" fill="#2a2a2a" transform="translate(479.6,987.5) scale(0.92,1)" text-anchor="middle" stroke="#2a2a2a" stroke-width="0.25">-1.0</text>
<path d="M521.9,969.9V974.4" stroke="#1e1e1e" stroke-width="1.4"/>
<text font-family="Liberation Sans, sans-serif" font-size="12.8" fill="#2a2a2a" transform="translate(521.9,987.5) scale(0.92,1)" text-anchor="middle" stroke="#2a2a2a" stroke-width="0.25">-0.5</text>
<path d="M564.1,969.9V974.4" stroke="#1e1e1e" stroke-width="1.4"/>
<text font-family="Liberation Sans, sans-serif" font-size="12.8" fill="#2a2a2a" transform="translate(564.1,987.5) scale(0.92,1)" text-anchor="middle" stroke="#2a2a2a" stroke-width="0.25">0.0</text>
<path d="M606.4,969.9V974.4" stroke="#1e1e1e" stroke-width="1.4"/>
<text font-family="Liberation Sans, sans-serif" font-size="12.8" fill="#2a2a2a" transform="translate(606.4,987.5) scale(0.92,1)" text-anchor="middle" stroke="#2a2a2a" stroke-width="0.25">0.5</text>
<path d="M648.6,969.9V974.4" stroke="#1e1e1e" stroke-width="1.4"/>
<text font-family="Liberation Sans, sans-serif" font-size="12.8" fill="#2a2a2a" transform="translate(648.6,987.5) scale(0.92,1)" text-anchor="middle" stroke="#2a2a2a" stroke-width="0.25">1.0</text>
<path d="M690.9,969.9V974.4" stroke="#1e1e1e" stroke-width="1.4"/>
<text font-family="Liberation Sans, sans-serif" font-size="12.8" fill="#2a2a2a" transform="translate(690.9,987.5) scale(0.92,1)" text-anchor="middle" stroke="#2a2a2a" stroke-width="0.25">1.5</text>
<path d="M416.4,760.5H411.9" stroke="#1e1e1e" stroke-width="1.4"/>
<text font-family="Liberation Sans, sans-serif" font-size="12.8" fill="#2a2a2a" transform="translate(407.9,765.1) scale(0.92,1)" text-anchor="end" stroke="#2a2a2a" stroke-width="0.25">200</text>
<path d="M416.4,809.5H411.9" stroke="#1e1e1e" stroke-width="1.4"/>
<text font-family="Liberation Sans, sans-serif" font-size="12.8" fill="#2a2a2a" transform="translate(407.9,814.1) scale(0.92,1)" text-anchor="end" stroke="#2a2a2a" stroke-width="0.25">100</text>
<path d="M416.4,858.5H411.9" stroke="#1e1e1e" stroke-width="1.4"/>
<text font-family="Liberation Sans, sans-serif" font-size="12.8" fill="#2a2a2a" transform="translate(407.9,863.1) scale(0.92,1)" text-anchor="end" stroke="#2a2a2a" stroke-width="0.25">0</text>
<path d="M416.4,907.5H411.9" stroke="#1e1e1e" stroke-width="1.4"/>
<text font-family="Liberation Sans, sans-serif" font-size="12.8" fill="#2a2a2a" transform="translate(407.9,912.1) scale(0.92,1)" text-anchor="end" stroke="#2a2a2a" stroke-width="0.25">-100</text>
<path d="M416.4,956.5H411.9" stroke="#1e1e1e" stroke-width="1.4"/>
<text font-family="Liberation Sans, sans-serif" font-size="12.8" fill="#2a2a2a" transform="translate(407.9,961.1) scale(0.92,1)" text-anchor="end" stroke="#2a2a2a" stroke-width="0.25">-200</text>
<path d="M416.4,785.0H413.4" stroke="#1e1e1e" stroke-width="1.1"/>
<path d="M416.4,834.0H413.4" stroke="#1e1e1e" stroke-width="1.1"/>
<path d="M416.4,883.0H413.4" stroke="#1e1e1e" stroke-width="1.1"/>
<path d="M416.4,932.0H413.4" stroke="#1e1e1e" stroke-width="1.1"/>
<text font-family="Liberation Sans, sans-serif" font-size="13" fill="#333" x="564.0" y="1008.5" text-anchor="middle" >Location (cm)</text>
<text font-family="Liberation Sans, sans-serif" font-size="13" fill="#333" transform="translate(379,858) rotate(-90) scale(1.0,1)" text-anchor="middle">Voltage (V)</text>
<path d="M533.3,757.3H561.7" stroke="#f59a3c" stroke-width="1.6"/>
<circle cx="547.5" cy="757.3" r="3.0" fill="#f59a3c"/>
<text font-family="Liberation Sans, sans-serif" font-size="12.5" fill="#1a1a1a" x="565" y="761.9" stroke="#1a1a1a" stroke-width="0.35">E<tspan font-size="9" dy="3.6" stroke-width="0.2">11'</tspan></text>
<path d="M533.3,776.9H561.7" stroke="#38ea38" stroke-width="1.6"/>
<circle cx="547.5" cy="776.9" r="3.0" fill="#38ea38"/>
<text font-family="Liberation Sans, sans-serif" font-size="12.5" fill="#1a1a1a" x="565" y="781.5" stroke="#1a1a1a" stroke-width="0.35">E<tspan font-size="9" dy="3.6" stroke-width="0.2">22'</tspan></text>
<path d="M533.3,797.3H561.7" stroke="#1c1cd0" stroke-width="1.6"/>
<path d="M547.5,793.5L551.0,799.8L544.0,799.8Z" fill="#1c1cd0"/>
<text font-family="Liberation Sans, sans-serif" font-size="12.5" fill="#1a1a1a" x="565" y="801.9" stroke="#1a1a1a" stroke-width="0.35">E<tspan font-size="9" dy="3.6" stroke-width="0.2">33'</tspan></text>
<path d="M533.3,817.3H561.7" stroke="#dd2222" stroke-width="1.6"/>
<path d="M547.5,821.0L551.0,814.8L544.0,814.8Z" fill="#dd2222"/>
<text font-family="Liberation Sans, sans-serif" font-size="12.5" fill="#1a1a1a" x="565" y="821.9" stroke="#1a1a1a" stroke-width="0.35">E<tspan font-size="9" dy="3.6" stroke-width="0.2">44'</tspan></text>
<path d="M789.8,769.6C793.4,777.6 804.3,799.9 811.5,817.6C818.7,835.3 826.0,859.9 833.2,875.7C840.4,891.5 847.7,902.6 854.9,912.5C862.1,922.4 869.4,929.4 876.6,935.1C883.8,940.9 891.1,944.4 898.3,947.0C905.5,949.7 912.8,951.3 920.0,951.3C927.2,951.3 934.5,949.7 941.7,947.0C948.9,944.4 956.2,940.9 963.4,935.1C970.6,929.4 977.9,922.4 985.1,912.5C992.3,902.6 999.6,891.5 1006.8,875.7C1014.0,859.9 1021.3,835.6 1028.5,817.6C1035.7,799.6 1046.6,776.2 1050.2,767.9" fill="none" stroke="#e07ae0" stroke-width="1.8"/>
<rect x="787.1" y="766.9" width="5.4" height="5.4" fill="#e010d8"/>
<rect x="808.8" y="814.9" width="5.4" height="5.4" fill="#e010d8"/>
<rect x="830.5" y="873.0" width="5.4" height="5.4" fill="#e010d8"/>
<rect x="852.2" y="909.8" width="5.4" height="5.4" fill="#e010d8"/>
<rect x="873.9" y="932.4" width="5.4" height="5.4" fill="#e010d8"/>
<rect x="895.6" y="944.3" width="5.4" height="5.4" fill="#e010d8"/>
<rect x="917.3" y="948.6" width="5.4" height="5.4" fill="#e010d8"/>
<rect x="939.0" y="944.3" width="5.4" height="5.4" fill="#e010d8"/>
<rect x="960.7" y="932.4" width="5.4" height="5.4" fill="#e010d8"/>
<rect x="982.4" y="909.8" width="5.4" height="5.4" fill="#e010d8"/>
<rect x="1004.1" y="873.0" width="5.4" height="5.4" fill="#e010d8"/>
<rect x="1025.8" y="814.9" width="5.4" height="5.4" fill="#e010d8"/>
<rect x="1047.5" y="765.2" width="5.4" height="5.4" fill="#e010d8"/>
<rect x="768.6" y="748.3" width="303.4999999999999" height="222.9000000000001" fill="none" stroke="#1e1e1e" stroke-width="1.9"/>
<path d="M789.8,971.2V975.7" stroke="#1e1e1e" stroke-width="1.4"/>
<text font-family="Liberation Sans, sans-serif" font-size="12.8" fill="#2a2a2a" transform="translate(789.8,989.5) scale(0.95,1)" text-anchor="middle" stroke="#2a2a2a" stroke-width="0.25">-1.5</text>
<path d="M833.2,971.2V975.7" stroke="#1e1e1e" stroke-width="1.4"/>
<text font-family="Liberation Sans, sans-serif" font-size="12.8" fill="#2a2a2a" transform="translate(833.2,989.5) scale(0.95,1)" text-anchor="middle" stroke="#2a2a2a" stroke-width="0.25">-1.0</text>
<path d="M876.6,971.2V975.7" stroke="#1e1e1e" stroke-width="1.4"/>
<text font-family="Liberation Sans, sans-serif" font-size="12.8" fill="#2a2a2a" transform="translate(876.6,989.5) scale(0.95,1)" text-anchor="middle" stroke="#2a2a2a" stroke-width="0.25">-0.5</text>
<path d="M920.0,971.2V975.7" stroke="#1e1e1e" stroke-width="1.4"/>
<text font-family="Liberation Sans, sans-serif" font-size="12.8" fill="#2a2a2a" transform="translate(920.0,989.5) scale(0.95,1)" text-anchor="middle" stroke="#2a2a2a" stroke-width="0.25">0.0</text>
<path d="M963.4,971.2V975.7" stroke="#1e1e1e" stroke-width="1.4"/>
<text font-family="Liberation Sans, sans-serif" font-size="12.8" fill="#2a2a2a" transform="translate(963.4,989.5) scale(0.95,1)" text-anchor="middle" stroke="#2a2a2a" stroke-width="0.25">0.5</text>
<path d="M1006.8,971.2V975.7" stroke="#1e1e1e" stroke-width="1.4"/>
<text font-family="Liberation Sans, sans-serif" font-size="12.8" fill="#2a2a2a" transform="translate(1006.8,989.5) scale(0.95,1)" text-anchor="middle" stroke="#2a2a2a" stroke-width="0.25">1.0</text>
<path d="M1050.2,971.2V975.7" stroke="#1e1e1e" stroke-width="1.4"/>
<text font-family="Liberation Sans, sans-serif" font-size="12.8" fill="#2a2a2a" transform="translate(1050.2,989.5) scale(0.95,1)" text-anchor="middle" stroke="#2a2a2a" stroke-width="0.25">1.5</text>
<path d="M811.5,971.2V974.2" stroke="#1e1e1e" stroke-width="1.1"/>
<path d="M854.9,971.2V974.2" stroke="#1e1e1e" stroke-width="1.1"/>
<path d="M898.3,971.2V974.2" stroke="#1e1e1e" stroke-width="1.1"/>
<path d="M941.7,971.2V974.2" stroke="#1e1e1e" stroke-width="1.1"/>
<path d="M985.1,971.2V974.2" stroke="#1e1e1e" stroke-width="1.1"/>
<path d="M1028.5,971.2V974.2" stroke="#1e1e1e" stroke-width="1.1"/>
<path d="M768.6,747.5H764.1" stroke="#1e1e1e" stroke-width="1.4"/>
<text font-family="Liberation Sans, sans-serif" font-size="12.8" fill="#2a2a2a" transform="translate(760.1,752.1) scale(0.95,1)" text-anchor="end" stroke="#2a2a2a" stroke-width="0.25">22</text>
<path d="M768.6,797.2H764.1" stroke="#1e1e1e" stroke-width="1.4"/>
<text font-family="Liberation Sans, sans-serif" font-size="12.8" fill="#2a2a2a" transform="translate(760.1,801.8) scale(0.95,1)" text-anchor="end" stroke="#2a2a2a" stroke-width="0.25">20</text>
<path d="M768.6,846.9H764.1" stroke="#1e1e1e" stroke-width="1.4"/>
<text font-family="Liberation Sans, sans-serif" font-size="12.8" fill="#2a2a2a" transform="translate(760.1,851.5) scale(0.95,1)" text-anchor="end" stroke="#2a2a2a" stroke-width="0.25">18</text>
<path d="M768.6,896.6H764.1" stroke="#1e1e1e" stroke-width="1.4"/>
<text font-family="Liberation Sans, sans-serif" font-size="12.8" fill="#2a2a2a" transform="translate(760.1,901.2) scale(0.95,1)" text-anchor="end" stroke="#2a2a2a" stroke-width="0.25">16</text>
<path d="M768.6,946.3H764.1" stroke="#1e1e1e" stroke-width="1.4"/>
<text font-family="Liberation Sans, sans-serif" font-size="12.8" fill="#2a2a2a" transform="translate(760.1,950.9) scale(0.95,1)" text-anchor="end" stroke="#2a2a2a" stroke-width="0.25">14</text>
<path d="M768.6,772.4H765.6" stroke="#1e1e1e" stroke-width="1.1"/>
<path d="M768.6,822.0H765.6" stroke="#1e1e1e" stroke-width="1.1"/>
<path d="M768.6,871.8H765.6" stroke="#1e1e1e" stroke-width="1.1"/>
<path d="M768.6,921.5H765.6" stroke="#1e1e1e" stroke-width="1.1"/>
<text font-family="Liberation Sans, sans-serif" font-size="14.8" fill="#333" x="920.0" y="1009.7" text-anchor="middle" >Location (cm)</text>
<text font-family="Liberation Sans, sans-serif" font-size="14.8" fill="#333" transform="translate(733,852.5) rotate(-90) scale(1.0,1)" text-anchor="middle">Magnetic flux (Wb)</text>
<text font-family="Liberation Sans, sans-serif" font-size="12.5" fill="#2a2a2a" transform="translate(722.0,975.8) scale(0.95,1)" text-anchor="start" >×10^-4</text>
<text font-family="Liberation Sans, sans-serif" font-size="19.3" fill="#b4d8a8" x="895.6" y="1005.6" text-anchor="start" >www.cntronics.com</text>
<text font-family="Liberation Sans, sans-serif" font-size="36" fill="#111" stroke="#111" stroke-width="0.5" x="21" y="761.7">d</text>
<text font-family="Liberation Sans, sans-serif" font-size="37" fill="#111" stroke="#111" stroke-width="0.5" x="364" y="762.4">e</text>
<text font-family="Liberation Sans, sans-serif" font-size="35.5" fill="#111" stroke="#111" stroke-width="0.5" x="721.3" y="761.4">g</text>
<defs><linearGradient id="cb1" x1="0" y1="0" x2="0" y2="1"><stop offset="0.00" stop-color="#7f0000"/><stop offset="0.05" stop-color="#b20000"/><stop offset="0.10" stop-color="#e50000"/><stop offset="0.15" stop-color="#ff1900"/><stop offset="0.20" stop-color="#ff4c00"/><stop offset="0.25" stop-color="#ff7f00"/><stop offset="0.30" stop-color="#ffb200"/><stop offset="0.35" stop-color="#ffe500"/><stop offset="0.40" stop-color="#e5ff19"/><stop offset="0.45" stop-color="#b2ff4c"/><stop offset="0.50" stop-color="#7fff7f"/><stop offset="0.55" stop-color="#4cffb2"/><stop offset="0.60" stop-color="#19ffe5"/><stop offset="0.65" stop-color="#00e5ff"/><stop offset="0.70" stop-color="#00b2ff"/><stop offset="0.75" stop-color="#007fff"/><stop offset="0.80" stop-color="#004cff"/><stop offset="0.85" stop-color="#0019ff"/><stop offset="0.90" stop-color="#0000e5"/><stop offset="0.95" stop-color="#0000b2"/><stop offset="1.00" stop-color="#00007f"/></linearGradient></defs>
<rect x="654.3" y="475.7" width="11.400000000000091" height="255.7" fill="url(#cb1)"/>
<text font-family="Liberation Sans, sans-serif" font-size="7.5" fill="#555" transform="translate(671,479.6) scale(0.9,1)">-150</text>
<text font-family="Liberation Sans, sans-serif" font-size="7.5" fill="#555" transform="translate(671,505.2) scale(0.9,1)">-200</text>
<text font-family="Liberation Sans, sans-serif" font-size="7.5" fill="#555" transform="translate(671,530.7) scale(0.9,1)">-250</text>
<text font-family="Liberation Sans, sans-serif" font-size="7.5" fill="#555" transform="translate(671,556.3) scale(0.9,1)">-300</text>
<text font-family="Liberation Sans, sans-serif" font-size="7.5" fill="#555" transform="translate(671,581.9) scale(0.9,1)">-350</text>
<text font-family="Liberation Sans, sans-serif" font-size="7.5" fill="#555" transform="translate(671,607.4) scale(0.9,1)">-400</text>
<text font-family="Liberation Sans, sans-serif" font-size="7.5" fill="#555" transform="translate(671,633.0) scale(0.9,1)">-450</text>
<text font-family="Liberation Sans, sans-serif" font-size="7.5" fill="#555" transform="translate(671,658.6) scale(0.9,1)">-500</text>
<text font-family="Liberation Sans, sans-serif" font-size="7.5" fill="#555" transform="translate(671,684.2) scale(0.9,1)">-550</text>
<text font-family="Liberation Sans, sans-serif" font-size="7.5" fill="#555" transform="translate(671,709.7) scale(0.9,1)">-600</text>
<text font-family="Liberation Sans, sans-serif" font-size="7.5" fill="#555" transform="translate(671,735.3) scale(0.9,1)">-650</text>
<text font-family="Liberation Sans, sans-serif" font-size="37.5" fill="#111" stroke="#111" stroke-width="0.5" x="21.4" y="491.3">b</text>
<text font-family="Liberation Sans, sans-serif" font-size="37" fill="#111" stroke="#111" stroke-width="0.5" x="370.2" y="488.9">c</text>
</svg>
</body></html>
